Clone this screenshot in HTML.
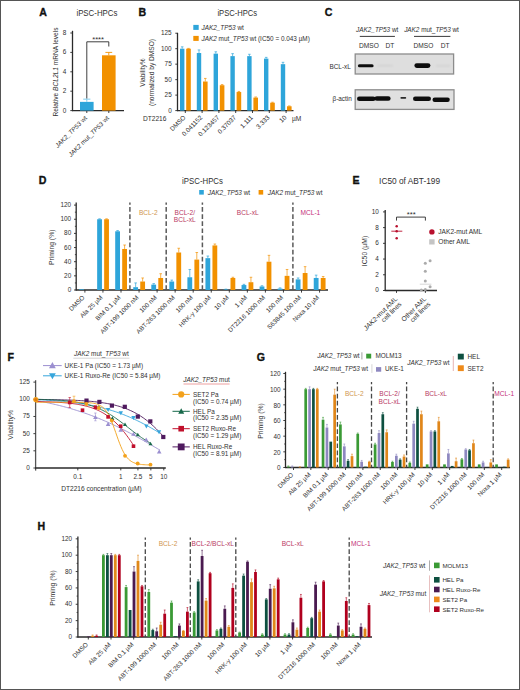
<!DOCTYPE html>
<html><head><meta charset="utf-8"><style>
html,body{margin:0;padding:0;background:#fff;}
body{width:520px;height:690px;overflow:hidden;}
svg{display:block;}
text{font-family:"Liberation Sans", sans-serif;fill:#303030;stroke:none;}
</style></head><body>
<svg width="520" height="690" viewBox="0 0 520 690">
<rect x="0" y="0" width="520" height="690" fill="#fff"/>
<text x="39.20" y="15.60" font-size="10.60" font-weight="bold" style="fill:#111;stroke:#111;stroke-width:0.35">A</text>
<text x="96.90" y="16.00" font-size="8.80" textLength="41.00" lengthAdjust="spacingAndGlyphs" text-anchor="middle">iPSC-HPCs</text>
<line x1="72.50" y1="30.80" x2="72.50" y2="111.10" stroke="#2a2a2a" stroke-width="1.30" />
<line x1="70.30" y1="110.60" x2="72.50" y2="110.60" stroke="#2a2a2a" stroke-width="0.90" />
<text x="66.20" y="112.58" font-size="6.40" text-anchor="end">0</text>
<line x1="70.30" y1="91.20" x2="72.50" y2="91.20" stroke="#2a2a2a" stroke-width="0.90" />
<text x="66.20" y="93.18" font-size="6.40" text-anchor="end">2</text>
<line x1="70.30" y1="71.80" x2="72.50" y2="71.80" stroke="#2a2a2a" stroke-width="0.90" />
<text x="66.20" y="73.78" font-size="6.40" text-anchor="end">4</text>
<line x1="70.30" y1="52.40" x2="72.50" y2="52.40" stroke="#2a2a2a" stroke-width="0.90" />
<text x="66.20" y="54.38" font-size="6.40" text-anchor="end">6</text>
<line x1="70.30" y1="33.00" x2="72.50" y2="33.00" stroke="#2a2a2a" stroke-width="0.90" />
<text x="66.20" y="34.98" font-size="6.40" text-anchor="end">8</text>
<line x1="72.00" y1="110.60" x2="124.00" y2="110.60" stroke="#2a2a2a" stroke-width="1.30" />
<line x1="86.80" y1="110.60" x2="86.80" y2="113.00" stroke="#2a2a2a" stroke-width="0.90" />
<line x1="108.80" y1="110.60" x2="108.80" y2="113.00" stroke="#2a2a2a" stroke-width="0.90" />
<rect x="80.00" y="101.87" width="13.60" height="8.73" fill="#2ea5da" />
<line x1="86.80" y1="101.87" x2="86.80" y2="99.15" stroke="#7fcdef" stroke-width="1.00" />
<line x1="83.20" y1="99.15" x2="90.40" y2="99.15" stroke="#7fcdef" stroke-width="1.00" />
<rect x="102.00" y="55.31" width="13.60" height="55.29" fill="#f29100" />
<line x1="108.80" y1="55.31" x2="108.80" y2="52.40" stroke="#f29100" stroke-width="0.90" />
<line x1="105.40" y1="52.40" x2="112.20" y2="52.40" stroke="#f29100" stroke-width="0.90" />
<polyline points="86.8,98.5 86.8,41.8 108.8,41.8 108.8,46.5" fill="none" stroke="#2a2a2a" stroke-width="0.9"/>
<text x="98.10" y="42.40" font-size="7.60" text-anchor="middle">****</text>
<text x="57.50" y="72.00" font-size="6.60" text-anchor="middle" transform="rotate(-90 57.50 72.00)">Relative <tspan font-style="italic">BCL2L1</tspan> mRNA levels</text>
<text x="87.60" y="118.40" font-size="6.40" text-anchor="end" transform="rotate(-45 87.60 118.40)"><tspan font-style="italic">JAK2_TP53</tspan> wt</text>
<text x="109.60" y="118.60" font-size="6.40" text-anchor="end" transform="rotate(-45 109.60 118.60)"><tspan font-style="italic">JAK2</tspan> mut_<tspan font-style="italic">TP53</tspan> wt</text>
<text x="138.40" y="15.80" font-size="10.60" font-weight="bold" style="fill:#111;stroke:#111;stroke-width:0.35">B</text>
<text x="237.30" y="16.00" font-size="8.80" textLength="39.80" lengthAdjust="spacingAndGlyphs" text-anchor="middle">iPSC-HPCs</text>
<rect x="193.30" y="24.90" width="5.40" height="5.00" fill="#2ea5da" />
<text x="201.50" y="30.00" font-size="6.40"><tspan font-style="italic">JAK2_TP53</tspan> wt</text>
<rect x="193.30" y="35.90" width="5.40" height="5.00" fill="#f29100" />
<text x="201.50" y="41.00" font-size="6.40"><tspan font-style="italic">JAK2</tspan> mut_<tspan font-style="italic">TP53</tspan> wt (IC50 = 0.043 µM)</text>
<line x1="177.50" y1="32.80" x2="177.50" y2="111.10" stroke="#2a2a2a" stroke-width="1.30" />
<line x1="175.30" y1="110.60" x2="177.50" y2="110.60" stroke="#2a2a2a" stroke-width="0.90" />
<text x="171.70" y="112.58" font-size="6.40" text-anchor="end">0</text>
<line x1="175.30" y1="95.12" x2="177.50" y2="95.12" stroke="#2a2a2a" stroke-width="0.90" />
<text x="171.70" y="97.11" font-size="6.40" text-anchor="end">25</text>
<line x1="175.30" y1="79.65" x2="177.50" y2="79.65" stroke="#2a2a2a" stroke-width="0.90" />
<text x="171.70" y="81.63" font-size="6.40" text-anchor="end">50</text>
<line x1="175.30" y1="64.17" x2="177.50" y2="64.17" stroke="#2a2a2a" stroke-width="0.90" />
<text x="171.70" y="66.16" font-size="6.40" text-anchor="end">75</text>
<line x1="175.30" y1="48.70" x2="177.50" y2="48.70" stroke="#2a2a2a" stroke-width="0.90" />
<text x="171.70" y="50.68" font-size="6.40" text-anchor="end">100</text>
<line x1="175.30" y1="33.22" x2="177.50" y2="33.22" stroke="#2a2a2a" stroke-width="0.90" />
<text x="171.70" y="35.21" font-size="6.40" text-anchor="end">125</text>
<line x1="177.00" y1="110.60" x2="293.50" y2="110.60" stroke="#2a2a2a" stroke-width="1.30" />
<rect x="180.00" y="48.70" width="4.40" height="61.90" fill="#2ea5da" />
<line x1="182.20" y1="48.70" x2="182.20" y2="46.84" stroke="#2ea5da" stroke-width="0.70" />
<line x1="180.90" y1="46.84" x2="183.50" y2="46.84" stroke="#2ea5da" stroke-width="0.70" />
<rect x="186.20" y="48.70" width="4.60" height="61.90" fill="#f29100" />
<line x1="188.50" y1="48.70" x2="188.50" y2="48.39" stroke="#f29100" stroke-width="0.70" />
<line x1="187.20" y1="48.39" x2="189.80" y2="48.39" stroke="#f29100" stroke-width="0.70" />
<line x1="185.30" y1="110.60" x2="185.30" y2="113.00" stroke="#2a2a2a" stroke-width="0.90" />
<text x="186.10" y="118.00" font-size="6.40" text-anchor="end" transform="rotate(-45 186.10 118.00)">DMSO</text>
<rect x="196.80" y="53.03" width="4.40" height="57.57" fill="#2ea5da" />
<line x1="199.00" y1="53.03" x2="199.00" y2="49.94" stroke="#2ea5da" stroke-width="0.70" />
<line x1="197.70" y1="49.94" x2="200.30" y2="49.94" stroke="#2ea5da" stroke-width="0.70" />
<rect x="203.00" y="81.51" width="4.60" height="29.09" fill="#f29100" />
<line x1="205.30" y1="81.51" x2="205.30" y2="78.41" stroke="#f29100" stroke-width="0.70" />
<line x1="204.00" y1="78.41" x2="206.60" y2="78.41" stroke="#f29100" stroke-width="0.70" />
<line x1="202.10" y1="110.60" x2="202.10" y2="113.00" stroke="#2a2a2a" stroke-width="0.90" />
<text x="202.90" y="118.00" font-size="6.40" text-anchor="end" transform="rotate(-45 202.90 118.00)">0.041152</text>
<rect x="213.60" y="53.65" width="4.40" height="56.95" fill="#2ea5da" />
<line x1="215.80" y1="53.65" x2="215.80" y2="51.79" stroke="#2ea5da" stroke-width="0.70" />
<line x1="214.50" y1="51.79" x2="217.10" y2="51.79" stroke="#2ea5da" stroke-width="0.70" />
<rect x="219.80" y="85.22" width="4.60" height="25.38" fill="#f29100" />
<line x1="222.10" y1="85.22" x2="222.10" y2="84.60" stroke="#f29100" stroke-width="0.70" />
<line x1="220.80" y1="84.60" x2="223.40" y2="84.60" stroke="#f29100" stroke-width="0.70" />
<line x1="218.90" y1="110.60" x2="218.90" y2="113.00" stroke="#2a2a2a" stroke-width="0.90" />
<text x="219.70" y="118.00" font-size="6.40" text-anchor="end" transform="rotate(-45 219.70 118.00)">0.123457</text>
<rect x="230.40" y="56.13" width="4.40" height="54.47" fill="#2ea5da" />
<line x1="232.60" y1="56.13" x2="232.60" y2="53.65" stroke="#2ea5da" stroke-width="0.70" />
<line x1="231.30" y1="53.65" x2="233.90" y2="53.65" stroke="#2ea5da" stroke-width="0.70" />
<rect x="236.60" y="92.03" width="4.60" height="18.57" fill="#f29100" />
<line x1="238.90" y1="92.03" x2="238.90" y2="91.41" stroke="#f29100" stroke-width="0.70" />
<line x1="237.60" y1="91.41" x2="240.20" y2="91.41" stroke="#f29100" stroke-width="0.70" />
<line x1="235.70" y1="110.60" x2="235.70" y2="113.00" stroke="#2a2a2a" stroke-width="0.90" />
<text x="236.50" y="118.00" font-size="6.40" text-anchor="end" transform="rotate(-45 236.50 118.00)">0.37037</text>
<rect x="247.20" y="56.13" width="4.40" height="54.47" fill="#2ea5da" />
<line x1="249.40" y1="56.13" x2="249.40" y2="54.27" stroke="#2ea5da" stroke-width="0.70" />
<line x1="248.10" y1="54.27" x2="250.70" y2="54.27" stroke="#2ea5da" stroke-width="0.70" />
<rect x="253.40" y="97.60" width="4.60" height="13.00" fill="#f29100" />
<line x1="255.70" y1="97.60" x2="255.70" y2="96.98" stroke="#f29100" stroke-width="0.70" />
<line x1="254.40" y1="96.98" x2="257.00" y2="96.98" stroke="#f29100" stroke-width="0.70" />
<line x1="252.50" y1="110.60" x2="252.50" y2="113.00" stroke="#2a2a2a" stroke-width="0.90" />
<text x="253.30" y="118.00" font-size="6.40" text-anchor="end" transform="rotate(-45 253.30 118.00)">1.111</text>
<rect x="264.00" y="58.60" width="4.40" height="52.00" fill="#2ea5da" />
<line x1="266.20" y1="58.60" x2="266.20" y2="57.37" stroke="#2ea5da" stroke-width="0.70" />
<line x1="264.90" y1="57.37" x2="267.50" y2="57.37" stroke="#2ea5da" stroke-width="0.70" />
<rect x="270.20" y="102.68" width="4.60" height="7.92" fill="#f29100" />
<line x1="272.50" y1="102.68" x2="272.50" y2="102.24" stroke="#f29100" stroke-width="0.70" />
<line x1="271.20" y1="102.24" x2="273.80" y2="102.24" stroke="#f29100" stroke-width="0.70" />
<line x1="269.30" y1="110.60" x2="269.30" y2="113.00" stroke="#2a2a2a" stroke-width="0.90" />
<text x="270.10" y="118.00" font-size="6.40" text-anchor="end" transform="rotate(-45 270.10 118.00)">3.333</text>
<rect x="280.80" y="64.17" width="4.40" height="46.42" fill="#2ea5da" />
<line x1="283.00" y1="64.17" x2="283.00" y2="62.32" stroke="#2ea5da" stroke-width="0.70" />
<line x1="281.70" y1="62.32" x2="284.30" y2="62.32" stroke="#2ea5da" stroke-width="0.70" />
<rect x="287.00" y="106.27" width="4.60" height="4.33" fill="#f29100" />
<line x1="289.30" y1="106.27" x2="289.30" y2="105.96" stroke="#f29100" stroke-width="0.70" />
<line x1="288.00" y1="105.96" x2="290.60" y2="105.96" stroke="#f29100" stroke-width="0.70" />
<line x1="286.10" y1="110.60" x2="286.10" y2="113.00" stroke="#2a2a2a" stroke-width="0.90" />
<text x="286.90" y="118.00" font-size="6.40" text-anchor="end" transform="rotate(-45 286.90 118.00)">10</text>
<text x="143.00" y="121.20" font-size="6.60">DT2216</text>
<text x="292.00" y="121.20" font-size="6.60">µM</text>
<text x="144.50" y="72.50" font-size="6.60" text-anchor="middle" transform="rotate(-90 144.50 72.50)">Viability%</text>
<text x="153.70" y="72.50" font-size="6.60" text-anchor="middle" transform="rotate(-90 153.70 72.50)">(normalized by DMSO)</text>
<text x="324.70" y="16.00" font-size="10.60" font-weight="bold" style="fill:#111;stroke:#111;stroke-width:0.35">C</text>
<text x="377.20" y="32.20" font-size="6.40" text-anchor="middle"><tspan font-style="italic">JAK2_TP53</tspan> wt</text>
<line x1="359.80" y1="36.40" x2="394.90" y2="36.40" stroke="#222" stroke-width="0.90" />
<text x="431.50" y="32.20" font-size="6.40" text-anchor="middle"><tspan font-style="italic">JAK2</tspan> mut_<tspan font-style="italic">TP53</tspan> wt</text>
<line x1="414.00" y1="36.40" x2="450.40" y2="36.40" stroke="#222" stroke-width="0.90" />
<text x="369.00" y="48.40" font-size="6.60" text-anchor="middle">DMSO</text>
<text x="390.00" y="48.40" font-size="6.60" text-anchor="middle">DT</text>
<text x="423.40" y="48.40" font-size="6.60" text-anchor="middle">DMSO</text>
<text x="445.10" y="48.40" font-size="6.60" text-anchor="middle">DT</text>
<text x="350.80" y="68.60" font-size="6.40" text-anchor="end">BCL-xL</text>
<text x="351.80" y="100.60" font-size="6.40" text-anchor="end">β-actin</text>
<defs><filter id="bl" x="-20%" y="-100%" width="140%" height="300%"><feGaussianBlur stdDeviation="0.4"/></filter><filter id="bl2" x="-20%" y="-100%" width="140%" height="300%"><feGaussianBlur stdDeviation="0.9"/></filter></defs>
<rect x="355.20" y="54.00" width="98.40" height="20.00" fill="#dedede" stroke="#8c8c8c" stroke-width="1.3"/>
<rect x="355.20" y="89.80" width="98.80" height="19.60" fill="#e0e0e0" stroke="#8c8c8c" stroke-width="1.3"/>
<rect x="357.90" y="64.30" width="15.70" height="3.00" rx="1.50" fill="#111" filter="url(#bl)"/>
<rect x="377.00" y="64.90" width="16.00" height="1.40" rx="0.70" fill="#cdcdcd" filter="url(#bl2)"/>
<rect x="414.40" y="63.30" width="16.00" height="4.60" rx="2.30" fill="#111" filter="url(#bl)"/>
<rect x="435.70" y="65.10" width="14.80" height="1.40" rx="0.70" fill="#d0d0d0" filter="url(#bl2)"/>
<rect x="357.00" y="96.40" width="18.60" height="4.60" rx="2.30" fill="#111" filter="url(#bl)"/>
<rect x="374.60" y="96.30" width="16.00" height="4.40" rx="2.20" fill="#111" filter="url(#bl)"/>
<rect x="400.40" y="97.10" width="5.80" height="1.60" rx="0.80" fill="#2a2a2a" filter="url(#bl)"/>
<rect x="413.00" y="96.40" width="18.00" height="4.60" rx="2.30" fill="#111" filter="url(#bl)"/>
<rect x="432.50" y="97.50" width="17.30" height="4.40" rx="2.20" fill="#111" filter="url(#bl)"/>
<text x="38.70" y="183.90" font-size="10.60" font-weight="bold" style="fill:#111;stroke:#111;stroke-width:0.35">D</text>
<text x="202.50" y="184.20" font-size="8.80" textLength="40.80" lengthAdjust="spacingAndGlyphs" text-anchor="middle">iPSC-HPCs</text>
<rect x="199.20" y="190.00" width="4.60" height="4.60" fill="#2ea5da" />
<text x="207.80" y="194.60" font-size="6.40"><tspan font-style="italic">JAK2_TP53</tspan> wt</text>
<rect x="258.60" y="190.00" width="4.60" height="4.60" fill="#f29100" />
<text x="267.80" y="194.60" font-size="6.40"><tspan font-style="italic">JAK2</tspan> mut_<tspan font-style="italic">TP53</tspan> wt</text>
<line x1="76.20" y1="202.50" x2="76.20" y2="290.50" stroke="#2a2a2a" stroke-width="1.30" />
<line x1="74.00" y1="290.00" x2="76.20" y2="290.00" stroke="#2a2a2a" stroke-width="0.90" />
<text x="71.20" y="291.98" font-size="6.40" text-anchor="end">0</text>
<line x1="74.00" y1="275.85" x2="76.20" y2="275.85" stroke="#2a2a2a" stroke-width="0.90" />
<text x="71.20" y="277.83" font-size="6.40" text-anchor="end">20</text>
<line x1="74.00" y1="261.70" x2="76.20" y2="261.70" stroke="#2a2a2a" stroke-width="0.90" />
<text x="71.20" y="263.68" font-size="6.40" text-anchor="end">40</text>
<line x1="74.00" y1="247.55" x2="76.20" y2="247.55" stroke="#2a2a2a" stroke-width="0.90" />
<text x="71.20" y="249.53" font-size="6.40" text-anchor="end">60</text>
<line x1="74.00" y1="233.40" x2="76.20" y2="233.40" stroke="#2a2a2a" stroke-width="0.90" />
<text x="71.20" y="235.38" font-size="6.40" text-anchor="end">80</text>
<line x1="74.00" y1="219.25" x2="76.20" y2="219.25" stroke="#2a2a2a" stroke-width="0.90" />
<text x="71.20" y="221.23" font-size="6.40" text-anchor="end">100</text>
<line x1="74.00" y1="205.10" x2="76.20" y2="205.10" stroke="#2a2a2a" stroke-width="0.90" />
<text x="71.20" y="207.08" font-size="6.40" text-anchor="end">120</text>
<line x1="74.88" y1="282.93" x2="76.20" y2="282.93" stroke="#2a2a2a" stroke-width="0.80" />
<line x1="74.88" y1="268.77" x2="76.20" y2="268.77" stroke="#2a2a2a" stroke-width="0.80" />
<line x1="74.88" y1="254.62" x2="76.20" y2="254.62" stroke="#2a2a2a" stroke-width="0.80" />
<line x1="74.88" y1="240.47" x2="76.20" y2="240.47" stroke="#2a2a2a" stroke-width="0.80" />
<line x1="74.88" y1="226.32" x2="76.20" y2="226.32" stroke="#2a2a2a" stroke-width="0.80" />
<line x1="74.88" y1="212.18" x2="76.20" y2="212.18" stroke="#2a2a2a" stroke-width="0.80" />
<line x1="75.70" y1="290.00" x2="328.00" y2="290.00" stroke="#2a2a2a" stroke-width="1.30" />
<text x="54.40" y="247.30" font-size="6.80" text-anchor="middle" transform="rotate(-90 54.40 247.30)">Priming (%)</text>
<rect x="79.10" y="289.29" width="4.80" height="0.71" fill="#2ea5da" />
<line x1="84.90" y1="290.00" x2="84.90" y2="292.60" stroke="#2a2a2a" stroke-width="0.90" />
<text x="85.00" y="297.90" font-size="6.40" text-anchor="end" transform="rotate(-45 85.00 297.90)">DMSO</text>
<rect x="97.15" y="219.25" width="4.80" height="70.75" fill="#2ea5da" />
<line x1="99.55" y1="219.25" x2="99.55" y2="218.83" stroke="#2ea5da" stroke-width="0.70" />
<line x1="98.25" y1="218.83" x2="100.85" y2="218.83" stroke="#2ea5da" stroke-width="0.70" />
<rect x="104.15" y="219.25" width="4.80" height="70.75" fill="#f29100" />
<line x1="106.55" y1="219.25" x2="106.55" y2="218.83" stroke="#f29100" stroke-width="0.70" />
<line x1="105.25" y1="218.83" x2="107.85" y2="218.83" stroke="#f29100" stroke-width="0.70" />
<line x1="102.95" y1="290.00" x2="102.95" y2="292.60" stroke="#2a2a2a" stroke-width="0.90" />
<text x="103.05" y="297.90" font-size="6.40" text-anchor="end" transform="rotate(-45 103.05 297.90)">Ala 25 µM</text>
<rect x="115.20" y="231.28" width="4.80" height="58.72" fill="#2ea5da" />
<line x1="117.60" y1="231.28" x2="117.60" y2="230.57" stroke="#2ea5da" stroke-width="0.70" />
<line x1="116.30" y1="230.57" x2="118.90" y2="230.57" stroke="#2ea5da" stroke-width="0.70" />
<rect x="122.20" y="248.97" width="4.80" height="41.03" fill="#f29100" />
<line x1="124.60" y1="248.97" x2="124.60" y2="245.00" stroke="#f29100" stroke-width="0.70" />
<line x1="123.30" y1="245.00" x2="125.90" y2="245.00" stroke="#f29100" stroke-width="0.70" />
<line x1="121.00" y1="290.00" x2="121.00" y2="292.60" stroke="#2a2a2a" stroke-width="0.90" />
<text x="121.10" y="297.90" font-size="6.40" text-anchor="end" transform="rotate(-45 121.10 297.90)">BIM 0.1 µM</text>
<rect x="133.25" y="287.17" width="4.80" height="2.83" fill="#2ea5da" />
<line x1="135.65" y1="287.17" x2="135.65" y2="282.93" stroke="#2ea5da" stroke-width="0.70" />
<line x1="134.35" y1="282.93" x2="136.95" y2="282.93" stroke="#2ea5da" stroke-width="0.70" />
<rect x="140.25" y="281.51" width="4.80" height="8.49" fill="#f29100" />
<line x1="142.65" y1="281.51" x2="142.65" y2="277.97" stroke="#f29100" stroke-width="0.70" />
<line x1="141.35" y1="277.97" x2="143.95" y2="277.97" stroke="#f29100" stroke-width="0.70" />
<line x1="139.05" y1="290.00" x2="139.05" y2="292.60" stroke="#2a2a2a" stroke-width="0.90" />
<text x="139.15" y="297.90" font-size="6.40" text-anchor="end" transform="rotate(-45 139.15 297.90)">ABT-199 1000 nM</text>
<rect x="151.30" y="284.62" width="4.80" height="5.38" fill="#2ea5da" />
<line x1="153.70" y1="284.62" x2="153.70" y2="283.63" stroke="#2ea5da" stroke-width="0.70" />
<line x1="152.40" y1="283.63" x2="155.00" y2="283.63" stroke="#2ea5da" stroke-width="0.70" />
<rect x="158.30" y="277.97" width="4.80" height="12.03" fill="#f29100" />
<line x1="160.70" y1="277.97" x2="160.70" y2="273.73" stroke="#f29100" stroke-width="0.70" />
<line x1="159.40" y1="273.73" x2="162.00" y2="273.73" stroke="#f29100" stroke-width="0.70" />
<line x1="157.10" y1="290.00" x2="157.10" y2="292.60" stroke="#2a2a2a" stroke-width="0.90" />
<text x="157.20" y="297.90" font-size="6.40" text-anchor="end" transform="rotate(-45 157.20 297.90)">100 nM</text>
<rect x="169.35" y="281.51" width="4.80" height="8.49" fill="#2ea5da" />
<line x1="171.75" y1="281.51" x2="171.75" y2="280.10" stroke="#2ea5da" stroke-width="0.70" />
<line x1="170.45" y1="280.10" x2="173.05" y2="280.10" stroke="#2ea5da" stroke-width="0.70" />
<rect x="176.35" y="252.50" width="4.80" height="37.50" fill="#f29100" />
<line x1="178.75" y1="252.50" x2="178.75" y2="248.26" stroke="#f29100" stroke-width="0.70" />
<line x1="177.45" y1="248.26" x2="180.05" y2="248.26" stroke="#f29100" stroke-width="0.70" />
<line x1="175.15" y1="290.00" x2="175.15" y2="292.60" stroke="#2a2a2a" stroke-width="0.90" />
<text x="175.25" y="297.90" font-size="6.40" text-anchor="end" transform="rotate(-45 175.25 297.90)">ABT-263 1000 nM</text>
<rect x="187.40" y="277.26" width="4.80" height="12.74" fill="#2ea5da" />
<line x1="189.80" y1="277.26" x2="189.80" y2="269.48" stroke="#2ea5da" stroke-width="0.70" />
<line x1="188.50" y1="269.48" x2="191.10" y2="269.48" stroke="#2ea5da" stroke-width="0.70" />
<rect x="194.40" y="259.58" width="4.80" height="30.42" fill="#f29100" />
<line x1="196.80" y1="259.58" x2="196.80" y2="252.50" stroke="#f29100" stroke-width="0.70" />
<line x1="195.50" y1="252.50" x2="198.10" y2="252.50" stroke="#f29100" stroke-width="0.70" />
<line x1="193.20" y1="290.00" x2="193.20" y2="292.60" stroke="#2a2a2a" stroke-width="0.90" />
<text x="193.30" y="297.90" font-size="6.40" text-anchor="end" transform="rotate(-45 193.30 297.90)">100 nM</text>
<rect x="205.45" y="258.16" width="4.80" height="31.84" fill="#2ea5da" />
<line x1="207.85" y1="258.16" x2="207.85" y2="256.04" stroke="#2ea5da" stroke-width="0.70" />
<line x1="206.55" y1="256.04" x2="209.15" y2="256.04" stroke="#2ea5da" stroke-width="0.70" />
<rect x="212.45" y="245.43" width="4.80" height="44.57" fill="#f29100" />
<line x1="214.85" y1="245.43" x2="214.85" y2="244.01" stroke="#f29100" stroke-width="0.70" />
<line x1="213.55" y1="244.01" x2="216.15" y2="244.01" stroke="#f29100" stroke-width="0.70" />
<line x1="211.25" y1="290.00" x2="211.25" y2="292.60" stroke="#2a2a2a" stroke-width="0.90" />
<text x="211.35" y="297.90" font-size="6.40" text-anchor="end" transform="rotate(-45 211.35 297.90)">HRK-y 100 µM</text>
<rect x="223.50" y="289.58" width="4.80" height="0.42" fill="#2ea5da" />
<line x1="225.90" y1="289.58" x2="225.90" y2="289.15" stroke="#2ea5da" stroke-width="0.70" />
<line x1="224.60" y1="289.15" x2="227.20" y2="289.15" stroke="#2ea5da" stroke-width="0.70" />
<rect x="230.50" y="277.97" width="4.80" height="12.03" fill="#f29100" />
<line x1="232.90" y1="277.97" x2="232.90" y2="277.26" stroke="#f29100" stroke-width="0.70" />
<line x1="231.60" y1="277.26" x2="234.20" y2="277.26" stroke="#f29100" stroke-width="0.70" />
<line x1="229.30" y1="290.00" x2="229.30" y2="292.60" stroke="#2a2a2a" stroke-width="0.90" />
<text x="229.40" y="297.90" font-size="6.40" text-anchor="end" transform="rotate(-45 229.40 297.90)">10 µM</text>
<rect x="241.55" y="285.05" width="4.80" height="4.95" fill="#2ea5da" />
<line x1="243.95" y1="285.05" x2="243.95" y2="284.34" stroke="#2ea5da" stroke-width="0.70" />
<line x1="242.65" y1="284.34" x2="245.25" y2="284.34" stroke="#2ea5da" stroke-width="0.70" />
<rect x="248.55" y="282.22" width="4.80" height="7.78" fill="#f29100" />
<line x1="250.95" y1="282.22" x2="250.95" y2="277.26" stroke="#f29100" stroke-width="0.70" />
<line x1="249.65" y1="277.26" x2="252.25" y2="277.26" stroke="#f29100" stroke-width="0.70" />
<line x1="247.35" y1="290.00" x2="247.35" y2="292.60" stroke="#2a2a2a" stroke-width="0.90" />
<text x="247.45" y="297.90" font-size="6.40" text-anchor="end" transform="rotate(-45 247.45 297.90)">1 µM</text>
<rect x="259.60" y="286.46" width="4.80" height="3.54" fill="#2ea5da" />
<line x1="262.00" y1="286.46" x2="262.00" y2="285.75" stroke="#2ea5da" stroke-width="0.70" />
<line x1="260.70" y1="285.75" x2="263.30" y2="285.75" stroke="#2ea5da" stroke-width="0.70" />
<rect x="266.60" y="261.70" width="4.80" height="28.30" fill="#f29100" />
<line x1="269.00" y1="261.70" x2="269.00" y2="255.33" stroke="#f29100" stroke-width="0.70" />
<line x1="267.70" y1="255.33" x2="270.30" y2="255.33" stroke="#f29100" stroke-width="0.70" />
<line x1="265.40" y1="290.00" x2="265.40" y2="292.60" stroke="#2a2a2a" stroke-width="0.90" />
<text x="265.50" y="297.90" font-size="6.40" text-anchor="end" transform="rotate(-45 265.50 297.90)">DT2216 1000 nM</text>
<rect x="277.65" y="288.58" width="4.80" height="1.42" fill="#2ea5da" />
<line x1="280.05" y1="288.58" x2="280.05" y2="287.88" stroke="#2ea5da" stroke-width="0.70" />
<line x1="278.75" y1="287.88" x2="281.35" y2="287.88" stroke="#2ea5da" stroke-width="0.70" />
<rect x="284.65" y="275.85" width="4.80" height="14.15" fill="#f29100" />
<line x1="287.05" y1="275.85" x2="287.05" y2="269.48" stroke="#f29100" stroke-width="0.70" />
<line x1="285.75" y1="269.48" x2="288.35" y2="269.48" stroke="#f29100" stroke-width="0.70" />
<line x1="283.45" y1="290.00" x2="283.45" y2="292.60" stroke="#2a2a2a" stroke-width="0.90" />
<text x="283.55" y="297.90" font-size="6.40" text-anchor="end" transform="rotate(-45 283.55 297.90)">100 nM</text>
<rect x="295.70" y="279.39" width="4.80" height="10.61" fill="#2ea5da" />
<line x1="298.10" y1="279.39" x2="298.10" y2="277.97" stroke="#2ea5da" stroke-width="0.70" />
<line x1="296.80" y1="277.97" x2="299.40" y2="277.97" stroke="#2ea5da" stroke-width="0.70" />
<rect x="302.70" y="273.02" width="4.80" height="16.98" fill="#f29100" />
<line x1="305.10" y1="273.02" x2="305.10" y2="266.65" stroke="#f29100" stroke-width="0.70" />
<line x1="303.80" y1="266.65" x2="306.40" y2="266.65" stroke="#f29100" stroke-width="0.70" />
<line x1="301.50" y1="290.00" x2="301.50" y2="292.60" stroke="#2a2a2a" stroke-width="0.90" />
<text x="301.60" y="297.90" font-size="6.40" text-anchor="end" transform="rotate(-45 301.60 297.90)">S63845 100 nM</text>
<rect x="313.75" y="277.97" width="4.80" height="12.03" fill="#2ea5da" />
<line x1="316.15" y1="277.97" x2="316.15" y2="275.14" stroke="#2ea5da" stroke-width="0.70" />
<line x1="314.85" y1="275.14" x2="317.45" y2="275.14" stroke="#2ea5da" stroke-width="0.70" />
<rect x="320.75" y="277.97" width="4.80" height="12.03" fill="#f29100" />
<line x1="323.15" y1="277.97" x2="323.15" y2="276.56" stroke="#f29100" stroke-width="0.70" />
<line x1="321.85" y1="276.56" x2="324.45" y2="276.56" stroke="#f29100" stroke-width="0.70" />
<line x1="319.55" y1="290.00" x2="319.55" y2="292.60" stroke="#2a2a2a" stroke-width="0.90" />
<text x="319.65" y="297.90" font-size="6.40" text-anchor="end" transform="rotate(-45 319.65 297.90)">Noxa 10 µM</text>
<line x1="129.90" y1="202.50" x2="129.90" y2="290.00" stroke="#5a5a5a" stroke-width="1.50" stroke-dasharray="4.7 2.4" stroke-dashoffset="2.5"/>
<line x1="166.20" y1="202.50" x2="166.20" y2="290.00" stroke="#5a5a5a" stroke-width="1.50" stroke-dasharray="4.7 2.4" stroke-dashoffset="2.5"/>
<line x1="202.40" y1="202.50" x2="202.40" y2="290.00" stroke="#5a5a5a" stroke-width="1.50" stroke-dasharray="4.7 2.4" stroke-dashoffset="2.5"/>
<line x1="292.90" y1="202.50" x2="292.90" y2="290.00" stroke="#5a5a5a" stroke-width="1.50" stroke-dasharray="4.7 2.4" stroke-dashoffset="2.5"/>
<text x="148.30" y="215.00" font-size="6.60" text-anchor="middle" style="fill:#d09650">BCL-2</text>
<text x="184.80" y="215.00" font-size="6.60" text-anchor="middle" style="fill:#b83a64">BCL-2/</text>
<text x="184.80" y="222.40" font-size="6.60" text-anchor="middle" style="fill:#b83a64">BCL-xL</text>
<text x="247.80" y="215.00" font-size="6.60" text-anchor="middle" style="fill:#b83a64">BCL-xL</text>
<text x="310.40" y="215.00" font-size="6.60" text-anchor="middle" style="fill:#c4307a">MCL-1</text>
<text x="352.60" y="183.80" font-size="10.60" font-weight="bold" style="fill:#111;stroke:#111;stroke-width:0.35">E</text>
<text x="409.60" y="184.40" font-size="8.80" textLength="61.00" lengthAdjust="spacingAndGlyphs" text-anchor="middle">IC50 of ABT-199</text>
<line x1="385.20" y1="210.00" x2="385.20" y2="291.00" stroke="#2a2a2a" stroke-width="1.30" />
<line x1="383.00" y1="290.50" x2="385.20" y2="290.50" stroke="#2a2a2a" stroke-width="0.90" />
<text x="378.80" y="292.48" font-size="6.40" text-anchor="end">0</text>
<line x1="383.00" y1="274.78" x2="385.20" y2="274.78" stroke="#2a2a2a" stroke-width="0.90" />
<text x="378.80" y="276.76" font-size="6.40" text-anchor="end">2</text>
<line x1="383.00" y1="259.06" x2="385.20" y2="259.06" stroke="#2a2a2a" stroke-width="0.90" />
<text x="378.80" y="261.04" font-size="6.40" text-anchor="end">4</text>
<line x1="383.00" y1="243.34" x2="385.20" y2="243.34" stroke="#2a2a2a" stroke-width="0.90" />
<text x="378.80" y="245.32" font-size="6.40" text-anchor="end">6</text>
<line x1="383.00" y1="227.62" x2="385.20" y2="227.62" stroke="#2a2a2a" stroke-width="0.90" />
<text x="378.80" y="229.60" font-size="6.40" text-anchor="end">8</text>
<line x1="383.00" y1="211.90" x2="385.20" y2="211.90" stroke="#2a2a2a" stroke-width="0.90" />
<text x="378.80" y="213.88" font-size="6.40" text-anchor="end">10</text>
<line x1="384.70" y1="290.50" x2="437.00" y2="290.50" stroke="#2a2a2a" stroke-width="1.30" />
<line x1="396.50" y1="290.50" x2="396.50" y2="292.90" stroke="#2a2a2a" stroke-width="0.90" />
<line x1="425.40" y1="290.50" x2="425.40" y2="292.90" stroke="#2a2a2a" stroke-width="0.90" />
<polyline points="396.5,220.6 396.5,217.1 425.4,217.1 425.4,220.6" fill="none" stroke="#2a2a2a" stroke-width="0.9"/>
<text x="411.20" y="217.30" font-size="7.60" text-anchor="middle">***</text>
<circle cx="396.70" cy="226.20" r="1.25" fill="#b8102e"/>
<circle cx="396.70" cy="238.30" r="1.25" fill="#b8102e"/>
<circle cx="396.70" cy="231.20" r="1.25" fill="#b8102e"/>
<line x1="391.30" y1="231.20" x2="402.30" y2="231.20" stroke="#b8102e" stroke-width="0.90" />
<circle cx="425.30" cy="263.20" r="1.5" fill="#ababab"/>
<circle cx="430.10" cy="260.80" r="1.5" fill="#ababab"/>
<circle cx="425.30" cy="271.30" r="1.5" fill="#ababab"/>
<circle cx="425.30" cy="281.10" r="1.5" fill="#ababab"/>
<circle cx="430.10" cy="286.80" r="1.5" fill="#ababab"/>
<circle cx="425.30" cy="289.60" r="1.5" fill="#ababab"/>
<circle cx="421.30" cy="290.00" r="1.5" fill="#ababab"/>
<line x1="419.80" y1="284.20" x2="431.40" y2="284.20" stroke="#cccccc" stroke-width="0.80" />
<circle cx="431.9" cy="231.9" r="2.7" fill="#b8102e"/>
<text x="438.30" y="234.30" font-size="6.60">JAK2-mut AML</text>
<rect x="429.20" y="239.30" width="5.40" height="5.20" fill="#c4c4c4" />
<text x="438.30" y="244.00" font-size="6.60">Other AML</text>
<text x="367.00" y="251.00" font-size="6.80" text-anchor="middle" transform="rotate(-90 367.00 251.00)">IC50 (µM)</text>
<text x="397.80" y="299.40" font-size="6.70" text-anchor="end" transform="rotate(-45 397.80 299.40)"><tspan font-style="italic">JAK2</tspan>-mut AML</text>
<text x="402.00" y="304.60" font-size="6.70" text-anchor="end" transform="rotate(-45 402.00 304.60)">cell lines</text>
<text x="426.60" y="299.40" font-size="6.70" text-anchor="end" transform="rotate(-45 426.60 299.40)">Other AML</text>
<text x="430.80" y="304.60" font-size="6.70" text-anchor="end" transform="rotate(-45 430.80 304.60)">cell lines</text>
<text x="7.40" y="361.30" font-size="10.60" font-weight="bold" style="fill:#111;stroke:#111;stroke-width:0.35">F</text>
<text x="101.40" y="356.20" font-size="6.40" text-anchor="middle"><tspan font-style="italic">JAK2</tspan> mut_<tspan font-style="italic">TP53</tspan> wt</text>
<line x1="73.30" y1="358.20" x2="129.50" y2="358.20" stroke="#bbb" stroke-width="0.60" />
<line x1="43.00" y1="365.60" x2="61.70" y2="365.60" stroke="#9b8fd0" stroke-width="1.00" />
<polygon points="49.00,368.16 55.80,368.16 52.40,362.04" fill="#9b8fd0"/>
<text x="64.60" y="367.90" font-size="6.40">UKE-1 Pa (IC50 = 1.73 µM)</text>
<line x1="43.00" y1="375.80" x2="61.70" y2="375.80" stroke="#37a6dc" stroke-width="1.00" />
<polygon points="49.00,373.24 55.80,373.24 52.40,379.36" fill="#37a6dc"/>
<text x="64.60" y="378.30" font-size="6.40">UKE-1 Ruxo-Re (IC50 = 5.84 µM)</text>
<line x1="35.60" y1="380.20" x2="35.60" y2="470.60" stroke="#555" stroke-width="1.30" />
<line x1="33.40" y1="468.00" x2="35.60" y2="468.00" stroke="#2a2a2a" stroke-width="0.90" />
<text x="29.80" y="469.98" font-size="6.40" text-anchor="end">0</text>
<line x1="33.40" y1="450.82" x2="35.60" y2="450.82" stroke="#2a2a2a" stroke-width="0.90" />
<text x="29.80" y="452.81" font-size="6.40" text-anchor="end">25</text>
<line x1="33.40" y1="433.65" x2="35.60" y2="433.65" stroke="#2a2a2a" stroke-width="0.90" />
<text x="29.80" y="435.63" font-size="6.40" text-anchor="end">50</text>
<line x1="33.40" y1="416.48" x2="35.60" y2="416.48" stroke="#2a2a2a" stroke-width="0.90" />
<text x="29.80" y="418.46" font-size="6.40" text-anchor="end">75</text>
<line x1="33.40" y1="399.30" x2="35.60" y2="399.30" stroke="#2a2a2a" stroke-width="0.90" />
<text x="29.80" y="401.28" font-size="6.40" text-anchor="end">100</text>
<line x1="33.40" y1="382.12" x2="35.60" y2="382.12" stroke="#2a2a2a" stroke-width="0.90" />
<text x="29.80" y="384.11" font-size="6.40" text-anchor="end">125</text>
<line x1="35.10" y1="468.00" x2="165.80" y2="468.00" stroke="#2a2a2a" stroke-width="1.30" />
<line x1="77.80" y1="468.00" x2="77.80" y2="470.40" stroke="#2a2a2a" stroke-width="0.90" />
<line x1="120.80" y1="468.00" x2="120.80" y2="470.40" stroke="#2a2a2a" stroke-width="0.90" />
<line x1="137.91" y1="468.00" x2="137.91" y2="470.40" stroke="#2a2a2a" stroke-width="0.90" />
<line x1="150.86" y1="468.00" x2="150.86" y2="470.40" stroke="#2a2a2a" stroke-width="0.90" />
<line x1="163.80" y1="468.00" x2="163.80" y2="470.40" stroke="#2a2a2a" stroke-width="0.90" />
<text x="77.80" y="479.00" font-size="6.40" text-anchor="middle">0.1</text>
<text x="120.80" y="479.00" font-size="6.40" text-anchor="middle">1</text>
<text x="137.91" y="479.00" font-size="6.40" text-anchor="middle">2.5</text>
<text x="150.86" y="479.00" font-size="6.40" text-anchor="middle">5</text>
<text x="163.80" y="479.00" font-size="6.40" text-anchor="middle">10</text>
<text x="101.40" y="490.60" font-size="6.60" text-anchor="middle">DT2216 concentration (µM)</text>
<text x="13.30" y="424.80" font-size="6.90" text-anchor="middle" transform="rotate(-90 13.30 424.80)">Viability%</text>
<polyline points="35.80,399.68 37.20,399.74 38.59,399.80 39.99,399.87 41.38,399.94 42.78,400.01 44.17,400.09 45.57,400.17 46.96,400.25 48.36,400.34 49.76,400.43 51.15,400.52 52.55,400.62 53.94,400.72 55.34,400.82 56.73,400.93 58.13,401.04 59.52,401.16 60.92,401.28 62.31,401.40 63.71,401.53 65.11,401.67 66.50,401.81 67.90,401.96 69.29,402.11 70.69,402.27 72.08,402.43 73.48,402.60 74.87,402.78 76.27,402.96 77.67,403.15 79.06,403.35 80.46,403.55 81.85,403.76 83.25,403.98 84.64,404.21 86.04,404.44 87.43,404.68 88.83,404.94 90.22,405.20 91.62,405.47 93.02,405.75 94.41,406.03 95.81,406.33 97.20,406.64 98.60,406.96 99.99,407.29 101.39,407.63 102.78,407.98 104.18,408.34 105.58,408.72 106.97,409.10 108.37,409.50 109.76,409.91 111.16,410.33 112.55,410.76 113.95,411.21 115.34,411.67 116.74,412.14 118.13,412.63 119.53,413.12 120.93,413.64 122.32,414.16 123.72,414.70 125.11,415.25 126.51,415.82 127.90,416.40 129.30,416.99 130.69,417.60 132.09,418.22 133.49,418.85 134.88,419.50 136.28,420.16 137.67,420.84 139.07,421.52 140.46,422.22 141.86,422.93 143.25,423.65 144.65,424.39 146.04,425.14 147.44,425.89 148.84,426.66 150.23,427.44 151.63,428.23 153.02,429.02 154.42,429.83 155.81,430.64 157.21,431.46 158.60,432.29 160.00,433.12" fill="none" stroke="#37a6dc" stroke-width="0.90"/>
<polyline points="35.80,400.49 37.20,400.74 38.59,401.00 39.99,401.26 41.38,401.53 42.78,401.80 44.17,402.08 45.57,402.36 46.96,402.65 48.36,402.95 49.76,403.25 51.15,403.56 52.55,403.87 53.94,404.19 55.34,404.52 56.73,404.85 58.13,405.20 59.52,405.54 60.92,405.90 62.31,406.26 63.71,406.63 65.11,407.00 66.50,407.39 67.90,407.78 69.29,408.17 70.69,408.58 72.08,408.99 73.48,409.41 74.87,409.84 76.27,410.27 77.67,410.72 79.06,411.17 80.46,411.63 81.85,412.09 83.25,412.57 84.64,413.05 86.04,413.54 87.43,414.04 88.83,414.55 90.22,415.06 91.62,415.58 93.02,416.12 94.41,416.66 95.81,417.20 97.20,417.76 98.60,418.32 99.99,418.90 101.39,419.48 102.78,420.07 104.18,420.66 105.58,421.27 106.97,421.88 108.37,422.50 109.76,423.13 111.16,423.77 112.55,424.42 113.95,425.07 115.34,425.73 116.74,426.40 118.13,427.07 119.53,427.76 120.93,428.45 122.32,429.15 123.72,429.85 125.11,430.57 126.51,431.29 127.90,432.01 129.30,432.75 130.69,433.48 132.09,434.23 133.49,434.98 134.88,435.74 136.28,436.50 137.67,437.27 139.07,438.05 140.46,438.83 141.86,439.61 143.25,440.40 144.65,441.20 146.04,441.99 147.44,442.80 148.84,443.60 150.23,444.41 151.63,445.23 153.02,446.04 154.42,446.86 155.81,447.69 157.21,448.51 158.60,449.34 160.00,450.16" fill="none" stroke="#9b8fd0" stroke-width="0.90"/>
<polyline points="35.80,399.46 37.23,399.47 38.67,399.48 40.10,399.49 41.54,399.51 42.97,399.52 44.41,399.54 45.84,399.56 47.28,399.58 48.71,399.60 50.15,399.62 51.58,399.64 53.02,399.67 54.45,399.69 55.89,399.72 57.32,399.75 58.76,399.78 60.19,399.81 61.63,399.85 63.06,399.89 64.50,399.93 65.93,399.97 67.37,400.01 68.80,400.06 70.24,400.11 71.67,400.17 73.11,400.23 74.54,400.29 75.98,400.36 77.41,400.43 78.84,400.50 80.28,400.58 81.71,400.67 83.15,400.76 84.58,400.86 86.02,400.96 87.45,401.07 88.89,401.19 90.32,401.31 91.76,401.44 93.19,401.58 94.63,401.73 96.06,401.89 97.50,402.06 98.93,402.24 100.37,402.43 101.80,402.63 103.24,402.85 104.67,403.08 106.11,403.32 107.54,403.58 108.98,403.85 110.41,404.14 111.85,404.45 113.28,404.78 114.72,405.12 116.15,405.49 117.59,405.88 119.02,406.29 120.46,406.72 121.89,407.18 123.32,407.67 124.76,408.18 126.19,408.73 127.63,409.30 129.06,409.90 130.50,410.54 131.93,411.21 133.37,411.92 134.80,412.66 136.24,413.44 137.67,414.26 139.11,415.12 140.54,416.02 141.98,416.97 143.41,417.95 144.85,418.99 146.28,420.06 147.72,421.19 149.15,422.36 150.59,423.58 152.02,424.84 153.46,426.16 154.89,427.52 156.33,428.93 157.76,430.38 159.20,431.88 160.63,433.43 162.07,435.01 163.50,436.64" fill="none" stroke="#4f1a5e" stroke-width="0.90"/>
<polyline points="35.80,399.30 37.09,399.33 38.38,399.35 39.67,399.38 40.96,399.42 42.24,399.45 43.53,399.49 44.82,399.53 46.11,399.57 47.40,399.62 48.69,399.67 49.98,399.72 51.27,399.78 52.55,399.84 53.84,399.91 55.13,399.97 56.42,400.05 57.71,400.13 59.00,400.21 60.29,400.31 61.58,400.40 62.86,400.51 64.15,400.62 65.44,400.74 66.73,400.86 68.02,401.00 69.31,401.14 70.60,401.30 71.89,401.46 73.17,401.64 74.46,401.83 75.75,402.03 77.04,402.24 78.33,402.46 79.62,402.70 80.91,402.96 82.20,403.23 83.48,403.52 84.77,403.82 86.06,404.15 87.35,404.49 88.64,404.85 89.93,405.24 91.22,405.64 92.51,406.07 93.79,406.52 95.08,407.00 96.37,407.49 97.66,408.02 98.95,408.57 100.24,409.15 101.53,409.75 102.82,410.38 104.10,411.04 105.39,411.72 106.68,412.43 107.97,413.17 109.26,413.94 110.55,414.73 111.84,415.55 113.13,416.39 114.41,417.25 115.70,418.14 116.99,419.05 118.28,419.98 119.57,420.92 120.86,421.89 122.15,422.86 123.44,423.85 124.72,424.84 126.01,425.85 127.30,426.86 128.59,427.86 129.88,428.87 131.17,429.88 132.46,430.88 133.75,431.87 135.03,432.86 136.32,433.83 137.61,434.79 138.90,435.73 140.19,436.65 141.48,437.55 142.77,438.43 144.06,439.29 145.34,440.12 146.63,440.93 147.92,441.72 149.21,442.47 150.50,443.20" fill="none" stroke="#17684a" stroke-width="0.90"/>
<polyline points="35.80,401.53 36.90,401.55 38.00,401.57 39.09,401.59 40.19,401.62 41.29,401.64 42.39,401.67 43.48,401.70 44.58,401.73 45.68,401.76 46.78,401.79 47.88,401.83 48.97,401.87 50.07,401.91 51.17,401.95 52.27,402.00 53.36,402.05 54.46,402.10 55.56,402.16 56.66,402.21 57.76,402.28 58.85,402.34 59.95,402.41 61.05,402.49 62.15,402.56 63.24,402.65 64.34,402.74 65.44,402.83 66.54,402.93 67.63,403.03 68.73,403.15 69.83,403.27 70.93,403.39 72.03,403.52 73.12,403.67 74.22,403.82 75.32,403.97 76.42,404.14 77.51,404.32 78.61,404.51 79.71,404.71 80.81,404.92 81.91,405.15 83.00,405.38 84.10,405.63 85.20,405.90 86.30,406.18 87.39,406.47 88.49,406.79 89.59,407.12 90.69,407.47 91.79,407.84 92.88,408.22 93.98,408.63 95.08,409.07 96.18,409.52 97.27,410.00 98.37,410.51 99.47,411.04 100.57,411.60 101.67,412.19 102.76,412.81 103.86,413.46 104.96,414.14 106.06,414.85 107.15,415.60 108.25,416.38 109.35,417.20 110.45,418.06 111.54,418.95 112.64,419.89 113.74,420.86 114.84,421.87 115.94,422.92 117.03,424.02 118.13,425.16 119.23,426.33 120.33,427.55 121.42,428.82 122.52,430.12 123.62,431.46 124.72,432.85 125.82,434.27 126.91,435.74 128.01,437.24 129.11,438.78 130.21,440.35 131.30,441.95 132.40,443.59 133.50,445.25" fill="none" stroke="#c0102c" stroke-width="0.90"/>
<polyline points="35.80,402.29 37.09,402.29 38.38,402.29 39.67,402.29 40.96,402.29 42.24,402.29 43.53,402.29 44.82,402.29 46.11,402.29 47.40,402.29 48.69,402.29 49.98,402.29 51.27,402.29 52.55,402.29 53.84,402.29 55.13,402.29 56.42,402.29 57.71,402.29 59.00,402.29 60.29,402.29 61.58,402.29 62.86,402.29 64.15,402.29 65.44,402.29 66.73,402.29 68.02,402.30 69.31,402.30 70.60,402.30 71.89,402.31 73.17,402.31 74.46,402.32 75.75,402.33 77.04,402.34 78.33,402.35 79.62,402.37 80.91,402.39 82.20,402.41 83.48,402.45 84.77,402.49 86.06,402.54 87.35,402.61 88.64,402.69 89.93,402.80 91.22,402.94 92.51,403.11 93.79,403.32 95.08,403.59 96.37,403.93 97.66,404.35 98.95,404.88 100.24,405.53 101.53,406.34 102.82,407.33 104.10,408.54 105.39,410.00 106.68,411.75 107.97,413.80 109.26,416.19 110.55,418.91 111.84,421.94 113.13,425.26 114.41,428.79 115.70,432.45 116.99,436.15 118.28,439.78 119.57,443.25 120.86,446.47 122.15,449.41 123.44,452.02 124.72,454.29 126.01,456.24 127.30,457.88 128.59,459.25 129.88,460.38 131.17,461.31 132.46,462.06 133.75,462.67 135.03,463.16 136.32,463.55 137.61,463.87 138.90,464.12 140.19,464.32 141.48,464.47 142.77,464.60 144.06,464.70 145.34,464.78 146.63,464.84 147.92,464.89 149.21,464.93 150.50,464.96" fill="none" stroke="#f3a11b" stroke-width="0.90"/>
<polygon points="93.10,419.07 97.70,419.07 95.40,414.93" fill="#9b8fd0"/>
<polygon points="105.80,425.97 110.40,425.97 108.10,421.83" fill="#9b8fd0"/>
<polygon points="118.50,431.67 123.10,431.67 120.80,427.53" fill="#9b8fd0"/>
<polygon points="131.20,435.77 135.80,435.77 133.50,431.63" fill="#9b8fd0"/>
<polygon points="143.90,441.57 148.50,441.57 146.20,437.43" fill="#9b8fd0"/>
<polygon points="156.90,453.57 161.50,453.57 159.20,449.43" fill="#9b8fd0"/>
<line x1="95.40" y1="417.00" x2="95.40" y2="413.00" stroke="#9b8fd0" stroke-width="0.60" />
<line x1="94.20" y1="413.00" x2="96.60" y2="413.00" stroke="#9b8fd0" stroke-width="0.60" />
<line x1="95.40" y1="417.00" x2="95.40" y2="420.80" stroke="#9b8fd0" stroke-width="0.60" />
<line x1="94.20" y1="420.80" x2="96.60" y2="420.80" stroke="#9b8fd0" stroke-width="0.60" />
<polygon points="105.90,408.02 110.30,408.02 108.10,411.98" fill="#37a6dc"/>
<polygon points="118.60,411.32 123.00,411.32 120.80,415.28" fill="#37a6dc"/>
<polygon points="131.30,415.92 135.70,415.92 133.50,419.88" fill="#37a6dc"/>
<polygon points="144.20,424.42 148.60,424.42 146.40,428.38" fill="#37a6dc"/>
<polygon points="156.80,430.22 161.20,430.22 159.00,434.18" fill="#37a6dc"/>
<rect x="84.40" y="398.50" width="4.20" height="4.20" fill="#4f1a5e" />
<rect x="97.30" y="399.80" width="4.20" height="4.20" fill="#4f1a5e" />
<rect x="109.80" y="403.50" width="4.20" height="4.20" fill="#4f1a5e" />
<rect x="122.70" y="404.70" width="4.20" height="4.20" fill="#4f1a5e" />
<rect x="135.70" y="414.50" width="4.20" height="4.20" fill="#4f1a5e" />
<rect x="148.20" y="419.30" width="4.20" height="4.20" fill="#4f1a5e" />
<rect x="161.20" y="434.90" width="4.20" height="4.20" fill="#4f1a5e" />
<rect x="67.90" y="400.70" width="3.60" height="3.60" fill="#c0102c" />
<rect x="80.70" y="408.40" width="3.60" height="3.60" fill="#c0102c" />
<rect x="93.60" y="405.40" width="3.60" height="3.60" fill="#c0102c" />
<rect x="106.30" y="415.10" width="3.60" height="3.60" fill="#c0102c" />
<rect x="118.90" y="424.40" width="3.60" height="3.60" fill="#c0102c" />
<rect x="131.70" y="444.40" width="3.60" height="3.60" fill="#c0102c" />
<line x1="69.70" y1="402.50" x2="69.70" y2="397.50" stroke="#c0102c" stroke-width="0.60" />
<line x1="68.50" y1="397.50" x2="70.90" y2="397.50" stroke="#c0102c" stroke-width="0.60" />
<line x1="69.70" y1="402.50" x2="69.70" y2="407.50" stroke="#c0102c" stroke-width="0.60" />
<line x1="68.50" y1="407.50" x2="70.90" y2="407.50" stroke="#c0102c" stroke-width="0.60" />
<polygon points="96.80,408.70 100.80,408.70 98.80,405.10" fill="#17684a"/>
<polygon points="110.40,419.90 114.40,419.90 112.40,416.30" fill="#17684a"/>
<polygon points="123.00,426.10 127.00,426.10 125.00,422.50" fill="#17684a"/>
<polygon points="135.80,436.30 139.80,436.30 137.80,432.70" fill="#17684a"/>
<polygon points="148.50,445.30 152.50,445.30 150.50,441.70" fill="#17684a"/>
<circle cx="74.00" cy="401.20" r="1.90" fill="#f3a11b"/>
<circle cx="86.40" cy="404.00" r="1.90" fill="#f3a11b"/>
<circle cx="98.80" cy="408.00" r="1.90" fill="#f3a11b"/>
<circle cx="111.80" cy="420.60" r="1.90" fill="#f3a11b"/>
<circle cx="125.00" cy="455.80" r="1.90" fill="#f3a11b"/>
<circle cx="137.70" cy="463.50" r="1.90" fill="#f3a11b"/>
<circle cx="150.50" cy="464.70" r="1.90" fill="#f3a11b"/>
<line x1="74.00" y1="401.20" x2="74.00" y2="396.20" stroke="#f3a11b" stroke-width="0.60" />
<line x1="72.60" y1="396.20" x2="75.40" y2="396.20" stroke="#f3a11b" stroke-width="0.60" />
<circle cx="35.80" cy="399.60" r="2.60" fill="#f3a11b"/>
<circle cx="35.80" cy="399.60" r="1.60" fill="#e07a10"/>
<text x="206.50" y="382.30" font-size="6.40" text-anchor="middle"><tspan font-style="italic">JAK2_TP53</tspan> mut</text>
<line x1="183.50" y1="384.00" x2="229.60" y2="384.00" stroke="#e06060" stroke-width="0.60" />
<line x1="172.50" y1="394.40" x2="189.80" y2="394.40" stroke="#f3a11b" stroke-width="1.00" />
<circle cx="181.20" cy="394.40" r="3.10" fill="#f3a11b"/>
<text x="193.00" y="396.70" font-size="6.40">SET2 Pa</text>
<text x="193.00" y="403.50" font-size="6.40">(IC50 = 0.74 µM)</text>
<line x1="172.50" y1="411.30" x2="189.80" y2="411.30" stroke="#17684a" stroke-width="1.00" />
<polygon points="178.20,413.70 184.20,413.70 181.20,408.30" fill="#17684a"/>
<text x="193.00" y="413.60" font-size="6.40">HEL Pa</text>
<text x="193.00" y="420.40" font-size="6.40">(IC50 = 2.35 µM)</text>
<line x1="172.50" y1="428.70" x2="189.80" y2="428.70" stroke="#c0102c" stroke-width="1.00" />
<rect x="178.40" y="425.90" width="5.60" height="5.60" fill="#c0102c" />
<text x="193.00" y="431.00" font-size="6.40">SET2 Ruxo-Re</text>
<text x="193.00" y="437.80" font-size="6.40">(IC50 = 1.29 µM)</text>
<line x1="172.50" y1="446.90" x2="189.80" y2="446.90" stroke="#4f1a5e" stroke-width="1.00" />
<rect x="177.80" y="443.50" width="6.80" height="6.80" fill="#4f1a5e" />
<text x="193.00" y="449.20" font-size="6.40">HEL Ruxo-Re</text>
<text x="193.00" y="456.00" font-size="6.40">(IC50 = 8.91 µM)</text>
<text x="256.80" y="361.30" font-size="10.60" font-weight="bold" style="fill:#111;stroke:#111;stroke-width:0.35">G</text>
<text x="359.60" y="357.90" font-size="6.40" text-anchor="end"><tspan font-style="italic">JAK2_TP53</tspan> wt</text>
<line x1="361.90" y1="352.30" x2="361.90" y2="359.40" stroke="#888" stroke-width="0.80" />
<rect x="366.20" y="353.70" width="5.00" height="4.80" fill="#3a9a35" />
<text x="375.40" y="358.20" font-size="6.40">MOLM13</text>
<text x="368.00" y="371.30" font-size="6.40" text-anchor="end"><tspan font-style="italic">JAK2</tspan> mut_<tspan font-style="italic">TP53</tspan> wt</text>
<line x1="371.90" y1="364.20" x2="371.90" y2="372.90" stroke="#ccc" stroke-width="0.80" />
<rect x="376.00" y="367.10" width="5.20" height="4.60" fill="#8e88c0" />
<text x="385.00" y="371.30" font-size="6.40">UKE-1</text>
<text x="449.50" y="364.80" font-size="6.40" text-anchor="end"><tspan font-style="italic">JAK2_TP53</tspan> wt</text>
<line x1="453.30" y1="356.00" x2="453.30" y2="371.00" stroke="#e0a0a0" stroke-width="0.80" />
<rect x="457.80" y="353.70" width="6.00" height="5.80" fill="#0e5040" />
<text x="467.50" y="358.80" font-size="6.40">HEL</text>
<rect x="457.80" y="365.30" width="6.00" height="5.80" fill="#ee8a1a" />
<text x="467.50" y="370.80" font-size="6.40">SET2</text>
<line x1="285.50" y1="371.80" x2="285.50" y2="468.00" stroke="#2a2a2a" stroke-width="1.30" />
<line x1="283.30" y1="467.50" x2="285.50" y2="467.50" stroke="#2a2a2a" stroke-width="0.90" />
<text x="280.60" y="470.28" font-size="6.40" text-anchor="end">0</text>
<line x1="283.30" y1="451.83" x2="285.50" y2="451.83" stroke="#2a2a2a" stroke-width="0.90" />
<text x="280.60" y="454.62" font-size="6.40" text-anchor="end">20</text>
<line x1="283.30" y1="436.17" x2="285.50" y2="436.17" stroke="#2a2a2a" stroke-width="0.90" />
<text x="280.60" y="438.95" font-size="6.40" text-anchor="end">40</text>
<line x1="283.30" y1="420.50" x2="285.50" y2="420.50" stroke="#2a2a2a" stroke-width="0.90" />
<text x="280.60" y="423.29" font-size="6.40" text-anchor="end">60</text>
<line x1="283.30" y1="404.84" x2="285.50" y2="404.84" stroke="#2a2a2a" stroke-width="0.90" />
<text x="280.60" y="407.62" font-size="6.40" text-anchor="end">80</text>
<line x1="283.30" y1="389.17" x2="285.50" y2="389.17" stroke="#2a2a2a" stroke-width="0.90" />
<text x="280.60" y="391.95" font-size="6.40" text-anchor="end">100</text>
<line x1="283.30" y1="373.50" x2="285.50" y2="373.50" stroke="#2a2a2a" stroke-width="0.90" />
<text x="280.60" y="376.29" font-size="6.40" text-anchor="end">120</text>
<line x1="284.18" y1="459.67" x2="285.50" y2="459.67" stroke="#2a2a2a" stroke-width="0.80" />
<line x1="284.18" y1="444.00" x2="285.50" y2="444.00" stroke="#2a2a2a" stroke-width="0.80" />
<line x1="284.18" y1="428.33" x2="285.50" y2="428.33" stroke="#2a2a2a" stroke-width="0.80" />
<line x1="284.18" y1="412.67" x2="285.50" y2="412.67" stroke="#2a2a2a" stroke-width="0.80" />
<line x1="284.18" y1="397.00" x2="285.50" y2="397.00" stroke="#2a2a2a" stroke-width="0.80" />
<line x1="284.18" y1="381.34" x2="285.50" y2="381.34" stroke="#2a2a2a" stroke-width="0.80" />
<line x1="285.00" y1="467.50" x2="510.00" y2="467.50" stroke="#2a2a2a" stroke-width="1.30" />
<text x="263.10" y="421.00" font-size="6.80" text-anchor="middle" transform="rotate(-90 263.10 421.00)">Priming (%)</text>
<rect x="287.00" y="466.72" width="2.70" height="0.78" fill="#3a9a35" />
<line x1="288.35" y1="466.72" x2="288.35" y2="465.93" stroke="#3a9a35" stroke-width="0.60" />
<line x1="287.45" y1="465.93" x2="289.25" y2="465.93" stroke="#3a9a35" stroke-width="0.60" />
<rect x="290.90" y="466.72" width="2.70" height="0.78" fill="#8e88c0" />
<line x1="292.25" y1="466.72" x2="292.25" y2="465.93" stroke="#8e88c0" stroke-width="0.60" />
<line x1="291.35" y1="465.93" x2="293.15" y2="465.93" stroke="#8e88c0" stroke-width="0.60" />
<rect x="298.60" y="467.11" width="2.70" height="0.39" fill="#e0861a" />
<line x1="299.95" y1="467.11" x2="299.95" y2="466.72" stroke="#e0861a" stroke-width="0.60" />
<line x1="299.05" y1="466.72" x2="300.85" y2="466.72" stroke="#e0861a" stroke-width="0.60" />
<line x1="293.50" y1="467.50" x2="293.50" y2="470.00" stroke="#2a2a2a" stroke-width="0.90" />
<text x="293.90" y="475.10" font-size="6.40" text-anchor="end" transform="rotate(-45 293.90 475.10)">DMSO</text>
<rect x="304.35" y="389.17" width="2.70" height="78.33" fill="#3a9a35" />
<line x1="305.70" y1="389.17" x2="305.70" y2="388.39" stroke="#3a9a35" stroke-width="0.60" />
<line x1="304.80" y1="388.39" x2="306.60" y2="388.39" stroke="#3a9a35" stroke-width="0.60" />
<rect x="308.25" y="389.17" width="2.70" height="78.33" fill="#8e88c0" />
<line x1="309.60" y1="389.17" x2="309.60" y2="386.82" stroke="#8e88c0" stroke-width="0.60" />
<line x1="308.70" y1="386.82" x2="310.50" y2="386.82" stroke="#8e88c0" stroke-width="0.60" />
<rect x="312.05" y="389.17" width="2.70" height="78.33" fill="#0e5040" />
<line x1="313.40" y1="389.17" x2="313.40" y2="388.39" stroke="#0e5040" stroke-width="0.60" />
<line x1="312.50" y1="388.39" x2="314.30" y2="388.39" stroke="#0e5040" stroke-width="0.60" />
<rect x="315.95" y="389.17" width="2.70" height="78.33" fill="#e0861a" />
<line x1="317.30" y1="389.17" x2="317.30" y2="388.39" stroke="#e0861a" stroke-width="0.60" />
<line x1="316.40" y1="388.39" x2="318.20" y2="388.39" stroke="#e0861a" stroke-width="0.60" />
<line x1="310.85" y1="467.50" x2="310.85" y2="470.00" stroke="#2a2a2a" stroke-width="0.90" />
<text x="311.25" y="475.10" font-size="6.40" text-anchor="end" transform="rotate(-45 311.25 475.10)">Ala 25 µM</text>
<rect x="321.70" y="419.72" width="2.70" height="47.78" fill="#3a9a35" />
<line x1="323.05" y1="419.72" x2="323.05" y2="417.37" stroke="#3a9a35" stroke-width="0.60" />
<line x1="322.15" y1="417.37" x2="323.95" y2="417.37" stroke="#3a9a35" stroke-width="0.60" />
<rect x="325.60" y="427.55" width="2.70" height="39.95" fill="#8e88c0" />
<line x1="326.95" y1="427.55" x2="326.95" y2="424.42" stroke="#8e88c0" stroke-width="0.60" />
<line x1="326.05" y1="424.42" x2="327.85" y2="424.42" stroke="#8e88c0" stroke-width="0.60" />
<rect x="329.40" y="441.65" width="2.70" height="25.85" fill="#0e5040" />
<rect x="333.30" y="394.65" width="2.70" height="72.85" fill="#e0861a" />
<line x1="334.65" y1="394.65" x2="334.65" y2="389.17" stroke="#e0861a" stroke-width="0.60" />
<line x1="333.75" y1="389.17" x2="335.55" y2="389.17" stroke="#e0861a" stroke-width="0.60" />
<line x1="328.20" y1="467.50" x2="328.20" y2="470.00" stroke="#2a2a2a" stroke-width="0.90" />
<text x="328.60" y="475.10" font-size="6.40" text-anchor="end" transform="rotate(-45 328.60 475.10)">BIM 0.1 µM</text>
<rect x="339.05" y="424.42" width="2.70" height="43.08" fill="#3a9a35" />
<line x1="340.40" y1="424.42" x2="340.40" y2="422.07" stroke="#3a9a35" stroke-width="0.60" />
<line x1="339.50" y1="422.07" x2="341.30" y2="422.07" stroke="#3a9a35" stroke-width="0.60" />
<rect x="342.95" y="446.35" width="2.70" height="21.15" fill="#8e88c0" />
<line x1="344.30" y1="446.35" x2="344.30" y2="444.00" stroke="#8e88c0" stroke-width="0.60" />
<line x1="343.40" y1="444.00" x2="345.20" y2="444.00" stroke="#8e88c0" stroke-width="0.60" />
<rect x="346.75" y="460.84" width="2.70" height="6.66" fill="#0e5040" />
<line x1="348.10" y1="460.84" x2="348.10" y2="459.67" stroke="#0e5040" stroke-width="0.60" />
<line x1="347.20" y1="459.67" x2="349.00" y2="459.67" stroke="#0e5040" stroke-width="0.60" />
<rect x="350.65" y="456.14" width="2.70" height="11.36" fill="#e0861a" />
<line x1="352.00" y1="456.14" x2="352.00" y2="454.18" stroke="#e0861a" stroke-width="0.60" />
<line x1="351.10" y1="454.18" x2="352.90" y2="454.18" stroke="#e0861a" stroke-width="0.60" />
<line x1="345.55" y1="467.50" x2="345.55" y2="470.00" stroke="#2a2a2a" stroke-width="0.90" />
<text x="345.95" y="475.10" font-size="6.40" text-anchor="end" transform="rotate(-45 345.95 475.10)">ABT-199 1000 nM</text>
<rect x="356.40" y="433.82" width="2.70" height="33.68" fill="#3a9a35" />
<line x1="357.75" y1="433.82" x2="357.75" y2="433.03" stroke="#3a9a35" stroke-width="0.60" />
<line x1="356.85" y1="433.03" x2="358.65" y2="433.03" stroke="#3a9a35" stroke-width="0.60" />
<rect x="360.30" y="461.70" width="2.70" height="5.80" fill="#8e88c0" />
<line x1="361.65" y1="461.70" x2="361.65" y2="460.45" stroke="#8e88c0" stroke-width="0.60" />
<line x1="360.75" y1="460.45" x2="362.55" y2="460.45" stroke="#8e88c0" stroke-width="0.60" />
<rect x="364.10" y="466.72" width="2.70" height="0.78" fill="#0e5040" />
<rect x="368.00" y="461.70" width="2.70" height="5.80" fill="#e0861a" />
<line x1="369.35" y1="461.70" x2="369.35" y2="461.23" stroke="#e0861a" stroke-width="0.60" />
<line x1="368.45" y1="461.23" x2="370.25" y2="461.23" stroke="#e0861a" stroke-width="0.60" />
<line x1="362.90" y1="467.50" x2="362.90" y2="470.00" stroke="#2a2a2a" stroke-width="0.90" />
<text x="363.30" y="475.10" font-size="6.40" text-anchor="end" transform="rotate(-45 363.30 475.10)">100 nM</text>
<rect x="373.75" y="444.39" width="2.70" height="23.11" fill="#3a9a35" />
<line x1="375.10" y1="444.39" x2="375.10" y2="443.22" stroke="#3a9a35" stroke-width="0.60" />
<line x1="374.20" y1="443.22" x2="376.00" y2="443.22" stroke="#3a9a35" stroke-width="0.60" />
<rect x="377.65" y="433.03" width="2.70" height="34.47" fill="#8e88c0" />
<line x1="379.00" y1="433.03" x2="379.00" y2="430.68" stroke="#8e88c0" stroke-width="0.60" />
<line x1="378.10" y1="430.68" x2="379.90" y2="430.68" stroke="#8e88c0" stroke-width="0.60" />
<rect x="381.45" y="414.24" width="2.70" height="53.26" fill="#0e5040" />
<line x1="382.80" y1="414.24" x2="382.80" y2="412.67" stroke="#0e5040" stroke-width="0.60" />
<line x1="381.90" y1="412.67" x2="383.70" y2="412.67" stroke="#0e5040" stroke-width="0.60" />
<rect x="385.35" y="432.25" width="2.70" height="35.25" fill="#e0861a" />
<line x1="386.70" y1="432.25" x2="386.70" y2="429.90" stroke="#e0861a" stroke-width="0.60" />
<line x1="385.80" y1="429.90" x2="387.60" y2="429.90" stroke="#e0861a" stroke-width="0.60" />
<line x1="380.25" y1="467.50" x2="380.25" y2="470.00" stroke="#2a2a2a" stroke-width="0.90" />
<text x="380.65" y="475.10" font-size="6.40" text-anchor="end" transform="rotate(-45 380.65 475.10)">ABT-263 1000 nM</text>
<rect x="391.10" y="462.02" width="2.70" height="5.48" fill="#3a9a35" />
<line x1="392.45" y1="462.02" x2="392.45" y2="461.23" stroke="#3a9a35" stroke-width="0.60" />
<line x1="391.55" y1="461.23" x2="393.35" y2="461.23" stroke="#3a9a35" stroke-width="0.60" />
<rect x="395.00" y="455.75" width="2.70" height="11.75" fill="#8e88c0" />
<line x1="396.35" y1="455.75" x2="396.35" y2="454.18" stroke="#8e88c0" stroke-width="0.60" />
<line x1="395.45" y1="454.18" x2="397.25" y2="454.18" stroke="#8e88c0" stroke-width="0.60" />
<rect x="398.80" y="459.67" width="2.70" height="7.83" fill="#0e5040" />
<line x1="400.15" y1="459.67" x2="400.15" y2="458.88" stroke="#0e5040" stroke-width="0.60" />
<line x1="399.25" y1="458.88" x2="401.05" y2="458.88" stroke="#0e5040" stroke-width="0.60" />
<rect x="402.70" y="456.53" width="2.70" height="10.97" fill="#e0861a" />
<line x1="404.05" y1="456.53" x2="404.05" y2="454.97" stroke="#e0861a" stroke-width="0.60" />
<line x1="403.15" y1="454.97" x2="404.95" y2="454.97" stroke="#e0861a" stroke-width="0.60" />
<line x1="397.60" y1="467.50" x2="397.60" y2="470.00" stroke="#2a2a2a" stroke-width="0.90" />
<text x="398.00" y="475.10" font-size="6.40" text-anchor="end" transform="rotate(-45 398.00 475.10)">100 nM</text>
<rect x="408.45" y="462.80" width="2.70" height="4.70" fill="#3a9a35" />
<line x1="409.80" y1="462.80" x2="409.80" y2="462.02" stroke="#3a9a35" stroke-width="0.60" />
<line x1="408.90" y1="462.02" x2="410.70" y2="462.02" stroke="#3a9a35" stroke-width="0.60" />
<rect x="412.35" y="423.64" width="2.70" height="43.86" fill="#8e88c0" />
<line x1="413.70" y1="423.64" x2="413.70" y2="421.29" stroke="#8e88c0" stroke-width="0.60" />
<line x1="412.80" y1="421.29" x2="414.60" y2="421.29" stroke="#8e88c0" stroke-width="0.60" />
<rect x="416.15" y="408.75" width="2.70" height="58.75" fill="#0e5040" />
<line x1="417.50" y1="408.75" x2="417.50" y2="407.19" stroke="#0e5040" stroke-width="0.60" />
<line x1="416.60" y1="407.19" x2="418.40" y2="407.19" stroke="#0e5040" stroke-width="0.60" />
<rect x="420.05" y="414.24" width="2.70" height="53.26" fill="#e0861a" />
<line x1="421.40" y1="414.24" x2="421.40" y2="411.10" stroke="#e0861a" stroke-width="0.60" />
<line x1="420.50" y1="411.10" x2="422.30" y2="411.10" stroke="#e0861a" stroke-width="0.60" />
<line x1="414.95" y1="467.50" x2="414.95" y2="470.00" stroke="#2a2a2a" stroke-width="0.90" />
<text x="415.35" y="475.10" font-size="6.40" text-anchor="end" transform="rotate(-45 415.35 475.10)">HRK-y 100 µM</text>
<rect x="425.80" y="464.37" width="2.70" height="3.13" fill="#3a9a35" />
<rect x="429.70" y="431.47" width="2.70" height="36.03" fill="#8e88c0" />
<line x1="431.05" y1="431.47" x2="431.05" y2="430.68" stroke="#8e88c0" stroke-width="0.60" />
<line x1="430.15" y1="430.68" x2="431.95" y2="430.68" stroke="#8e88c0" stroke-width="0.60" />
<rect x="433.50" y="431.47" width="2.70" height="36.03" fill="#0e5040" />
<line x1="434.85" y1="431.47" x2="434.85" y2="430.68" stroke="#0e5040" stroke-width="0.60" />
<line x1="433.95" y1="430.68" x2="435.75" y2="430.68" stroke="#0e5040" stroke-width="0.60" />
<rect x="437.40" y="421.29" width="2.70" height="46.21" fill="#e0861a" />
<line x1="438.75" y1="421.29" x2="438.75" y2="417.37" stroke="#e0861a" stroke-width="0.60" />
<line x1="437.85" y1="417.37" x2="439.65" y2="417.37" stroke="#e0861a" stroke-width="0.60" />
<line x1="432.30" y1="467.50" x2="432.30" y2="470.00" stroke="#2a2a2a" stroke-width="0.90" />
<text x="432.70" y="475.10" font-size="6.40" text-anchor="end" transform="rotate(-45 432.70 475.10)">10 µM</text>
<rect x="443.15" y="464.37" width="2.70" height="3.13" fill="#3a9a35" />
<rect x="447.05" y="453.40" width="2.70" height="14.10" fill="#8e88c0" />
<line x1="448.40" y1="453.40" x2="448.40" y2="449.48" stroke="#8e88c0" stroke-width="0.60" />
<line x1="447.50" y1="449.48" x2="449.30" y2="449.48" stroke="#8e88c0" stroke-width="0.60" />
<rect x="450.85" y="465.93" width="2.70" height="1.57" fill="#0e5040" />
<rect x="454.75" y="461.23" width="2.70" height="6.27" fill="#e0861a" />
<line x1="456.10" y1="461.23" x2="456.10" y2="458.10" stroke="#e0861a" stroke-width="0.60" />
<line x1="455.20" y1="458.10" x2="457.00" y2="458.10" stroke="#e0861a" stroke-width="0.60" />
<line x1="449.65" y1="467.50" x2="449.65" y2="470.00" stroke="#2a2a2a" stroke-width="0.90" />
<text x="450.05" y="475.10" font-size="6.40" text-anchor="end" transform="rotate(-45 450.05 475.10)">1 µM</text>
<rect x="460.50" y="459.28" width="2.70" height="8.22" fill="#3a9a35" />
<line x1="461.85" y1="459.28" x2="461.85" y2="458.49" stroke="#3a9a35" stroke-width="0.60" />
<line x1="460.95" y1="458.49" x2="462.75" y2="458.49" stroke="#3a9a35" stroke-width="0.60" />
<rect x="464.40" y="449.48" width="2.70" height="18.02" fill="#8e88c0" />
<line x1="465.75" y1="449.48" x2="465.75" y2="448.70" stroke="#8e88c0" stroke-width="0.60" />
<line x1="464.85" y1="448.70" x2="466.65" y2="448.70" stroke="#8e88c0" stroke-width="0.60" />
<rect x="468.20" y="450.27" width="2.70" height="17.23" fill="#0e5040" />
<line x1="469.55" y1="450.27" x2="469.55" y2="449.48" stroke="#0e5040" stroke-width="0.60" />
<line x1="468.65" y1="449.48" x2="470.45" y2="449.48" stroke="#0e5040" stroke-width="0.60" />
<rect x="472.10" y="443.22" width="2.70" height="24.28" fill="#e0861a" />
<line x1="473.45" y1="443.22" x2="473.45" y2="440.08" stroke="#e0861a" stroke-width="0.60" />
<line x1="472.55" y1="440.08" x2="474.35" y2="440.08" stroke="#e0861a" stroke-width="0.60" />
<line x1="467.00" y1="467.50" x2="467.00" y2="470.00" stroke="#2a2a2a" stroke-width="0.90" />
<text x="467.40" y="475.10" font-size="6.40" text-anchor="end" transform="rotate(-45 467.40 475.10)">DT2216 1000 nM</text>
<rect x="477.85" y="464.37" width="2.70" height="3.13" fill="#3a9a35" />
<rect x="481.75" y="462.41" width="2.70" height="5.09" fill="#8e88c0" />
<line x1="483.10" y1="462.41" x2="483.10" y2="461.23" stroke="#8e88c0" stroke-width="0.60" />
<line x1="482.20" y1="461.23" x2="484.00" y2="461.23" stroke="#8e88c0" stroke-width="0.60" />
<rect x="489.45" y="462.41" width="2.70" height="5.09" fill="#e0861a" />
<line x1="490.80" y1="462.41" x2="490.80" y2="459.67" stroke="#e0861a" stroke-width="0.60" />
<line x1="489.90" y1="459.67" x2="491.70" y2="459.67" stroke="#e0861a" stroke-width="0.60" />
<line x1="484.35" y1="467.50" x2="484.35" y2="470.00" stroke="#2a2a2a" stroke-width="0.90" />
<text x="484.75" y="475.10" font-size="6.40" text-anchor="end" transform="rotate(-45 484.75 475.10)">100 nM</text>
<rect x="495.20" y="464.37" width="2.70" height="3.13" fill="#3a9a35" />
<rect x="502.90" y="466.72" width="2.70" height="0.78" fill="#0e5040" />
<rect x="506.80" y="459.67" width="2.70" height="7.83" fill="#e0861a" />
<line x1="508.15" y1="459.67" x2="508.15" y2="458.88" stroke="#e0861a" stroke-width="0.60" />
<line x1="507.25" y1="458.88" x2="509.05" y2="458.88" stroke="#e0861a" stroke-width="0.60" />
<line x1="501.70" y1="467.50" x2="501.70" y2="470.00" stroke="#2a2a2a" stroke-width="0.90" />
<text x="502.10" y="475.10" font-size="6.40" text-anchor="end" transform="rotate(-45 502.10 475.10)">Noxa 1 µM</text>
<line x1="337.40" y1="382.00" x2="337.40" y2="467.50" stroke="#484848" stroke-width="1.30" stroke-dasharray="4.7 2.4" stroke-dashoffset="2.5"/>
<line x1="371.50" y1="382.00" x2="371.50" y2="467.50" stroke="#484848" stroke-width="1.30" stroke-dasharray="4.7 2.4" stroke-dashoffset="2.5"/>
<line x1="406.60" y1="382.00" x2="406.60" y2="467.50" stroke="#484848" stroke-width="1.30" stroke-dasharray="4.7 2.4" stroke-dashoffset="2.5"/>
<line x1="493.20" y1="382.00" x2="493.20" y2="467.50" stroke="#484848" stroke-width="1.30" stroke-dasharray="4.7 2.4" stroke-dashoffset="2.5"/>
<text x="354.30" y="396.20" font-size="6.60" text-anchor="middle" style="fill:#d09650">BCL-2</text>
<text x="389.50" y="396.20" font-size="6.60" text-anchor="middle" style="fill:#b83a64">BCL-2/</text>
<text x="389.50" y="403.80" font-size="6.60" text-anchor="middle" style="fill:#b83a64">BCL-xL</text>
<text x="435.90" y="396.20" font-size="6.60" text-anchor="middle" style="fill:#b83a64">BCL-xL</text>
<text x="504.20" y="396.20" font-size="6.60" text-anchor="middle" style="fill:#c4307a">MCL-1</text>
<text x="37.40" y="529.60" font-size="10.60" font-weight="bold" style="fill:#111;stroke:#111;stroke-width:0.35">H</text>
<line x1="77.90" y1="536.60" x2="77.90" y2="637.50" stroke="#2a2a2a" stroke-width="1.30" />
<line x1="75.70" y1="637.00" x2="77.90" y2="637.00" stroke="#2a2a2a" stroke-width="0.90" />
<text x="72.10" y="638.98" font-size="6.40" text-anchor="end">0</text>
<line x1="75.70" y1="620.64" x2="77.90" y2="620.64" stroke="#2a2a2a" stroke-width="0.90" />
<text x="72.10" y="622.62" font-size="6.40" text-anchor="end">20</text>
<line x1="75.70" y1="604.28" x2="77.90" y2="604.28" stroke="#2a2a2a" stroke-width="0.90" />
<text x="72.10" y="606.26" font-size="6.40" text-anchor="end">40</text>
<line x1="75.70" y1="587.92" x2="77.90" y2="587.92" stroke="#2a2a2a" stroke-width="0.90" />
<text x="72.10" y="589.90" font-size="6.40" text-anchor="end">60</text>
<line x1="75.70" y1="571.56" x2="77.90" y2="571.56" stroke="#2a2a2a" stroke-width="0.90" />
<text x="72.10" y="573.54" font-size="6.40" text-anchor="end">80</text>
<line x1="75.70" y1="555.20" x2="77.90" y2="555.20" stroke="#2a2a2a" stroke-width="0.90" />
<text x="72.10" y="557.18" font-size="6.40" text-anchor="end">100</text>
<line x1="75.70" y1="538.84" x2="77.90" y2="538.84" stroke="#2a2a2a" stroke-width="0.90" />
<text x="72.10" y="540.82" font-size="6.40" text-anchor="end">120</text>
<line x1="76.58" y1="628.82" x2="77.90" y2="628.82" stroke="#2a2a2a" stroke-width="0.80" />
<line x1="76.58" y1="612.46" x2="77.90" y2="612.46" stroke="#2a2a2a" stroke-width="0.80" />
<line x1="76.58" y1="596.10" x2="77.90" y2="596.10" stroke="#2a2a2a" stroke-width="0.80" />
<line x1="76.58" y1="579.74" x2="77.90" y2="579.74" stroke="#2a2a2a" stroke-width="0.80" />
<line x1="76.58" y1="563.38" x2="77.90" y2="563.38" stroke="#2a2a2a" stroke-width="0.80" />
<line x1="76.58" y1="547.02" x2="77.90" y2="547.02" stroke="#2a2a2a" stroke-width="0.80" />
<line x1="77.40" y1="637.00" x2="372.00" y2="637.00" stroke="#2a2a2a" stroke-width="1.30" />
<text x="55.30" y="588.00" font-size="6.80" text-anchor="middle" transform="rotate(-90 55.30 588.00)">Priming (%)</text>
<rect x="87.20" y="636.51" width="2.80" height="0.49" fill="#4a1a50" />
<rect x="91.20" y="635.77" width="2.80" height="1.23" fill="#e0881a" />
<line x1="92.60" y1="635.77" x2="92.60" y2="634.96" stroke="#e0881a" stroke-width="0.60" />
<line x1="91.70" y1="634.96" x2="93.50" y2="634.96" stroke="#e0881a" stroke-width="0.60" />
<rect x="95.20" y="635.77" width="2.80" height="1.23" fill="#b0001e" />
<line x1="96.60" y1="635.77" x2="96.60" y2="634.96" stroke="#b0001e" stroke-width="0.60" />
<line x1="95.70" y1="634.96" x2="97.50" y2="634.96" stroke="#b0001e" stroke-width="0.60" />
<line x1="88.30" y1="637.00" x2="88.30" y2="639.50" stroke="#2a2a2a" stroke-width="0.90" />
<text x="88.60" y="644.90" font-size="6.40" text-anchor="end" transform="rotate(-45 88.60 644.90)">DMSO</text>
<rect x="102.00" y="555.20" width="2.80" height="81.80" fill="#3a9a35" />
<line x1="103.40" y1="555.20" x2="103.40" y2="554.38" stroke="#3a9a35" stroke-width="0.60" />
<line x1="102.50" y1="554.38" x2="104.30" y2="554.38" stroke="#3a9a35" stroke-width="0.60" />
<rect x="106.00" y="555.20" width="2.80" height="81.80" fill="#0d5040" />
<line x1="107.40" y1="555.20" x2="107.40" y2="553.56" stroke="#0d5040" stroke-width="0.60" />
<line x1="106.50" y1="553.56" x2="108.30" y2="553.56" stroke="#0d5040" stroke-width="0.60" />
<rect x="109.90" y="555.20" width="2.80" height="81.80" fill="#4a1a50" />
<line x1="111.30" y1="555.20" x2="111.30" y2="553.56" stroke="#4a1a50" stroke-width="0.60" />
<line x1="110.40" y1="553.56" x2="112.20" y2="553.56" stroke="#4a1a50" stroke-width="0.60" />
<rect x="113.90" y="555.20" width="2.80" height="81.80" fill="#e0881a" />
<line x1="115.30" y1="555.20" x2="115.30" y2="554.38" stroke="#e0881a" stroke-width="0.60" />
<line x1="114.40" y1="554.38" x2="116.20" y2="554.38" stroke="#e0881a" stroke-width="0.60" />
<rect x="117.90" y="555.20" width="2.80" height="81.80" fill="#b0001e" />
<line x1="119.30" y1="555.20" x2="119.30" y2="554.38" stroke="#b0001e" stroke-width="0.60" />
<line x1="118.40" y1="554.38" x2="120.20" y2="554.38" stroke="#b0001e" stroke-width="0.60" />
<line x1="111.00" y1="637.00" x2="111.00" y2="639.50" stroke="#2a2a2a" stroke-width="0.90" />
<text x="111.30" y="644.90" font-size="6.40" text-anchor="end" transform="rotate(-45 111.30 644.90)">Ala 25 µM</text>
<rect x="124.70" y="587.10" width="2.80" height="49.90" fill="#3a9a35" />
<line x1="126.10" y1="587.10" x2="126.10" y2="585.47" stroke="#3a9a35" stroke-width="0.60" />
<line x1="125.20" y1="585.47" x2="127.00" y2="585.47" stroke="#3a9a35" stroke-width="0.60" />
<rect x="128.70" y="610.01" width="2.80" height="26.99" fill="#0d5040" />
<rect x="132.60" y="571.56" width="2.80" height="65.44" fill="#4a1a50" />
<line x1="134.00" y1="571.56" x2="134.00" y2="566.65" stroke="#4a1a50" stroke-width="0.60" />
<line x1="133.10" y1="566.65" x2="134.90" y2="566.65" stroke="#4a1a50" stroke-width="0.60" />
<rect x="136.60" y="560.93" width="2.80" height="76.07" fill="#e0881a" />
<line x1="138.00" y1="560.93" x2="138.00" y2="555.20" stroke="#e0881a" stroke-width="0.60" />
<line x1="137.10" y1="555.20" x2="138.90" y2="555.20" stroke="#e0881a" stroke-width="0.60" />
<rect x="140.60" y="586.28" width="2.80" height="50.72" fill="#b0001e" />
<line x1="142.00" y1="586.28" x2="142.00" y2="585.47" stroke="#b0001e" stroke-width="0.60" />
<line x1="141.10" y1="585.47" x2="142.90" y2="585.47" stroke="#b0001e" stroke-width="0.60" />
<line x1="133.70" y1="637.00" x2="133.70" y2="639.50" stroke="#2a2a2a" stroke-width="0.90" />
<text x="134.00" y="644.90" font-size="6.40" text-anchor="end" transform="rotate(-45 134.00 644.90)">BIM 0.1 µM</text>
<rect x="147.40" y="592.01" width="2.80" height="44.99" fill="#3a9a35" />
<line x1="148.80" y1="592.01" x2="148.80" y2="589.56" stroke="#3a9a35" stroke-width="0.60" />
<line x1="147.90" y1="589.56" x2="149.70" y2="589.56" stroke="#3a9a35" stroke-width="0.60" />
<rect x="151.40" y="630.05" width="2.80" height="6.95" fill="#0d5040" />
<line x1="152.80" y1="630.05" x2="152.80" y2="629.23" stroke="#0d5040" stroke-width="0.60" />
<line x1="151.90" y1="629.23" x2="153.70" y2="629.23" stroke="#0d5040" stroke-width="0.60" />
<rect x="155.30" y="631.27" width="2.80" height="5.73" fill="#4a1a50" />
<line x1="156.70" y1="631.27" x2="156.70" y2="628.00" stroke="#4a1a50" stroke-width="0.60" />
<line x1="155.80" y1="628.00" x2="157.60" y2="628.00" stroke="#4a1a50" stroke-width="0.60" />
<rect x="159.30" y="624.73" width="2.80" height="12.27" fill="#e0881a" />
<line x1="160.70" y1="624.73" x2="160.70" y2="622.28" stroke="#e0881a" stroke-width="0.60" />
<line x1="159.80" y1="622.28" x2="161.60" y2="622.28" stroke="#e0881a" stroke-width="0.60" />
<rect x="163.30" y="613.69" width="2.80" height="23.31" fill="#b0001e" />
<line x1="164.70" y1="613.69" x2="164.70" y2="610.01" stroke="#b0001e" stroke-width="0.60" />
<line x1="163.80" y1="610.01" x2="165.60" y2="610.01" stroke="#b0001e" stroke-width="0.60" />
<line x1="156.40" y1="637.00" x2="156.40" y2="639.50" stroke="#2a2a2a" stroke-width="0.90" />
<text x="156.70" y="644.90" font-size="6.40" text-anchor="end" transform="rotate(-45 156.70 644.90)">ABT-199 1000 nM</text>
<rect x="170.10" y="602.64" width="2.80" height="34.36" fill="#3a9a35" />
<line x1="171.50" y1="602.64" x2="171.50" y2="601.01" stroke="#3a9a35" stroke-width="0.60" />
<line x1="170.60" y1="601.01" x2="172.40" y2="601.01" stroke="#3a9a35" stroke-width="0.60" />
<rect x="174.10" y="636.18" width="2.80" height="0.82" fill="#0d5040" />
<rect x="178.00" y="625.55" width="2.80" height="11.45" fill="#4a1a50" />
<line x1="179.40" y1="625.55" x2="179.40" y2="623.91" stroke="#4a1a50" stroke-width="0.60" />
<line x1="178.50" y1="623.91" x2="180.30" y2="623.91" stroke="#4a1a50" stroke-width="0.60" />
<rect x="182.00" y="630.87" width="2.80" height="6.13" fill="#e0881a" />
<line x1="183.40" y1="630.87" x2="183.40" y2="630.46" stroke="#e0881a" stroke-width="0.60" />
<line x1="182.50" y1="630.46" x2="184.30" y2="630.46" stroke="#e0881a" stroke-width="0.60" />
<rect x="186.00" y="611.64" width="2.80" height="25.36" fill="#b0001e" />
<line x1="187.40" y1="611.64" x2="187.40" y2="607.55" stroke="#b0001e" stroke-width="0.60" />
<line x1="186.50" y1="607.55" x2="188.30" y2="607.55" stroke="#b0001e" stroke-width="0.60" />
<line x1="179.10" y1="637.00" x2="179.10" y2="639.50" stroke="#2a2a2a" stroke-width="0.90" />
<text x="179.40" y="644.90" font-size="6.40" text-anchor="end" transform="rotate(-45 179.40 644.90)">100 nM</text>
<rect x="192.80" y="612.46" width="2.80" height="24.54" fill="#3a9a35" />
<line x1="194.20" y1="612.46" x2="194.20" y2="611.64" stroke="#3a9a35" stroke-width="0.60" />
<line x1="193.30" y1="611.64" x2="195.10" y2="611.64" stroke="#3a9a35" stroke-width="0.60" />
<rect x="196.80" y="581.38" width="2.80" height="55.62" fill="#0d5040" />
<line x1="198.20" y1="581.38" x2="198.20" y2="579.74" stroke="#0d5040" stroke-width="0.60" />
<line x1="197.30" y1="579.74" x2="199.10" y2="579.74" stroke="#0d5040" stroke-width="0.60" />
<rect x="200.70" y="556.02" width="2.80" height="80.98" fill="#4a1a50" />
<line x1="202.10" y1="556.02" x2="202.10" y2="550.29" stroke="#4a1a50" stroke-width="0.60" />
<line x1="201.20" y1="550.29" x2="203.00" y2="550.29" stroke="#4a1a50" stroke-width="0.60" />
<rect x="204.70" y="600.60" width="2.80" height="36.40" fill="#e0881a" />
<line x1="206.10" y1="600.60" x2="206.10" y2="598.55" stroke="#e0881a" stroke-width="0.60" />
<line x1="205.20" y1="598.55" x2="207.00" y2="598.55" stroke="#e0881a" stroke-width="0.60" />
<rect x="208.70" y="573.20" width="2.80" height="63.80" fill="#b0001e" />
<line x1="210.10" y1="573.20" x2="210.10" y2="572.38" stroke="#b0001e" stroke-width="0.60" />
<line x1="209.20" y1="572.38" x2="211.00" y2="572.38" stroke="#b0001e" stroke-width="0.60" />
<line x1="201.80" y1="637.00" x2="201.80" y2="639.50" stroke="#2a2a2a" stroke-width="0.90" />
<text x="202.10" y="644.90" font-size="6.40" text-anchor="end" transform="rotate(-45 202.10 644.90)">ABT-263 1000 nM</text>
<rect x="215.50" y="630.46" width="2.80" height="6.54" fill="#3a9a35" />
<line x1="216.90" y1="630.46" x2="216.90" y2="629.64" stroke="#3a9a35" stroke-width="0.60" />
<line x1="216.00" y1="629.64" x2="217.80" y2="629.64" stroke="#3a9a35" stroke-width="0.60" />
<rect x="219.50" y="628.82" width="2.80" height="8.18" fill="#0d5040" />
<line x1="220.90" y1="628.82" x2="220.90" y2="628.00" stroke="#0d5040" stroke-width="0.60" />
<line x1="220.00" y1="628.00" x2="221.80" y2="628.00" stroke="#0d5040" stroke-width="0.60" />
<rect x="223.40" y="608.78" width="2.80" height="28.22" fill="#4a1a50" />
<line x1="224.80" y1="608.78" x2="224.80" y2="605.92" stroke="#4a1a50" stroke-width="0.60" />
<line x1="223.90" y1="605.92" x2="225.70" y2="605.92" stroke="#4a1a50" stroke-width="0.60" />
<rect x="227.40" y="626.77" width="2.80" height="10.23" fill="#e0881a" />
<line x1="228.80" y1="626.77" x2="228.80" y2="625.55" stroke="#e0881a" stroke-width="0.60" />
<line x1="227.90" y1="625.55" x2="229.70" y2="625.55" stroke="#e0881a" stroke-width="0.60" />
<rect x="231.40" y="587.92" width="2.80" height="49.08" fill="#b0001e" />
<line x1="232.80" y1="587.92" x2="232.80" y2="583.83" stroke="#b0001e" stroke-width="0.60" />
<line x1="231.90" y1="583.83" x2="233.70" y2="583.83" stroke="#b0001e" stroke-width="0.60" />
<line x1="224.50" y1="637.00" x2="224.50" y2="639.50" stroke="#2a2a2a" stroke-width="0.90" />
<text x="224.80" y="644.90" font-size="6.40" text-anchor="end" transform="rotate(-45 224.80 644.90)">100 nM</text>
<rect x="238.20" y="632.50" width="2.80" height="4.50" fill="#3a9a35" />
<line x1="239.60" y1="632.50" x2="239.60" y2="632.09" stroke="#3a9a35" stroke-width="0.60" />
<line x1="238.70" y1="632.09" x2="240.50" y2="632.09" stroke="#3a9a35" stroke-width="0.60" />
<rect x="242.20" y="575.65" width="2.80" height="61.35" fill="#0d5040" />
<line x1="243.60" y1="575.65" x2="243.60" y2="574.01" stroke="#0d5040" stroke-width="0.60" />
<line x1="242.70" y1="574.01" x2="244.50" y2="574.01" stroke="#0d5040" stroke-width="0.60" />
<rect x="246.10" y="561.74" width="2.80" height="75.26" fill="#4a1a50" />
<line x1="247.50" y1="561.74" x2="247.50" y2="560.93" stroke="#4a1a50" stroke-width="0.60" />
<line x1="246.60" y1="560.93" x2="248.40" y2="560.93" stroke="#4a1a50" stroke-width="0.60" />
<rect x="250.10" y="582.19" width="2.80" height="54.81" fill="#e0881a" />
<line x1="251.50" y1="582.19" x2="251.50" y2="578.92" stroke="#e0881a" stroke-width="0.60" />
<line x1="250.60" y1="578.92" x2="252.40" y2="578.92" stroke="#e0881a" stroke-width="0.60" />
<rect x="254.10" y="571.97" width="2.80" height="65.03" fill="#b0001e" />
<line x1="255.50" y1="571.97" x2="255.50" y2="569.92" stroke="#b0001e" stroke-width="0.60" />
<line x1="254.60" y1="569.92" x2="256.40" y2="569.92" stroke="#b0001e" stroke-width="0.60" />
<line x1="247.20" y1="637.00" x2="247.20" y2="639.50" stroke="#2a2a2a" stroke-width="0.90" />
<text x="247.50" y="644.90" font-size="6.40" text-anchor="end" transform="rotate(-45 247.50 644.90)">HRK-y 100 µM</text>
<rect x="260.90" y="634.55" width="2.80" height="2.45" fill="#3a9a35" />
<line x1="262.30" y1="634.55" x2="262.30" y2="633.73" stroke="#3a9a35" stroke-width="0.60" />
<line x1="261.40" y1="633.73" x2="263.20" y2="633.73" stroke="#3a9a35" stroke-width="0.60" />
<rect x="264.90" y="599.37" width="2.80" height="37.63" fill="#0d5040" />
<line x1="266.30" y1="599.37" x2="266.30" y2="598.55" stroke="#0d5040" stroke-width="0.60" />
<line x1="265.40" y1="598.55" x2="267.20" y2="598.55" stroke="#0d5040" stroke-width="0.60" />
<rect x="268.80" y="588.74" width="2.80" height="48.26" fill="#4a1a50" />
<line x1="270.20" y1="588.74" x2="270.20" y2="584.65" stroke="#4a1a50" stroke-width="0.60" />
<line x1="269.30" y1="584.65" x2="271.10" y2="584.65" stroke="#4a1a50" stroke-width="0.60" />
<rect x="272.80" y="588.33" width="2.80" height="48.67" fill="#e0881a" />
<line x1="274.20" y1="588.33" x2="274.20" y2="586.28" stroke="#e0881a" stroke-width="0.60" />
<line x1="273.30" y1="586.28" x2="275.10" y2="586.28" stroke="#e0881a" stroke-width="0.60" />
<rect x="276.80" y="579.33" width="2.80" height="57.67" fill="#b0001e" />
<line x1="278.20" y1="579.33" x2="278.20" y2="578.10" stroke="#b0001e" stroke-width="0.60" />
<line x1="277.30" y1="578.10" x2="279.10" y2="578.10" stroke="#b0001e" stroke-width="0.60" />
<line x1="269.90" y1="637.00" x2="269.90" y2="639.50" stroke="#2a2a2a" stroke-width="0.90" />
<text x="270.20" y="644.90" font-size="6.40" text-anchor="end" transform="rotate(-45 270.20 644.90)">10 µM</text>
<rect x="283.60" y="634.55" width="2.80" height="2.45" fill="#3a9a35" />
<line x1="285.00" y1="634.55" x2="285.00" y2="633.73" stroke="#3a9a35" stroke-width="0.60" />
<line x1="284.10" y1="633.73" x2="285.90" y2="633.73" stroke="#3a9a35" stroke-width="0.60" />
<rect x="287.60" y="634.55" width="2.80" height="2.45" fill="#0d5040" />
<line x1="289.00" y1="634.55" x2="289.00" y2="633.73" stroke="#0d5040" stroke-width="0.60" />
<line x1="288.10" y1="633.73" x2="289.90" y2="633.73" stroke="#0d5040" stroke-width="0.60" />
<rect x="291.50" y="622.28" width="2.80" height="14.72" fill="#4a1a50" />
<line x1="292.90" y1="622.28" x2="292.90" y2="619.82" stroke="#4a1a50" stroke-width="0.60" />
<line x1="292.00" y1="619.82" x2="293.80" y2="619.82" stroke="#4a1a50" stroke-width="0.60" />
<rect x="295.50" y="629.64" width="2.80" height="7.36" fill="#e0881a" />
<line x1="296.90" y1="629.64" x2="296.90" y2="628.00" stroke="#e0881a" stroke-width="0.60" />
<line x1="296.00" y1="628.00" x2="297.80" y2="628.00" stroke="#e0881a" stroke-width="0.60" />
<rect x="299.50" y="597.74" width="2.80" height="39.26" fill="#b0001e" />
<line x1="300.90" y1="597.74" x2="300.90" y2="594.46" stroke="#b0001e" stroke-width="0.60" />
<line x1="300.00" y1="594.46" x2="301.80" y2="594.46" stroke="#b0001e" stroke-width="0.60" />
<line x1="292.60" y1="637.00" x2="292.60" y2="639.50" stroke="#2a2a2a" stroke-width="0.90" />
<text x="292.90" y="644.90" font-size="6.40" text-anchor="end" transform="rotate(-45 292.90 644.90)">1 µM</text>
<rect x="306.30" y="628.00" width="2.80" height="9.00" fill="#3a9a35" />
<line x1="307.70" y1="628.00" x2="307.70" y2="627.18" stroke="#3a9a35" stroke-width="0.60" />
<line x1="306.80" y1="627.18" x2="308.60" y2="627.18" stroke="#3a9a35" stroke-width="0.60" />
<rect x="310.30" y="618.19" width="2.80" height="18.81" fill="#0d5040" />
<line x1="311.70" y1="618.19" x2="311.70" y2="617.37" stroke="#0d5040" stroke-width="0.60" />
<line x1="310.80" y1="617.37" x2="312.60" y2="617.37" stroke="#0d5040" stroke-width="0.60" />
<rect x="314.20" y="584.65" width="2.80" height="52.35" fill="#4a1a50" />
<line x1="315.60" y1="584.65" x2="315.60" y2="582.19" stroke="#4a1a50" stroke-width="0.60" />
<line x1="314.70" y1="582.19" x2="316.50" y2="582.19" stroke="#4a1a50" stroke-width="0.60" />
<rect x="318.20" y="611.64" width="2.80" height="25.36" fill="#e0881a" />
<line x1="319.60" y1="611.64" x2="319.60" y2="610.01" stroke="#e0881a" stroke-width="0.60" />
<line x1="318.70" y1="610.01" x2="320.50" y2="610.01" stroke="#e0881a" stroke-width="0.60" />
<rect x="322.20" y="581.38" width="2.80" height="55.62" fill="#b0001e" />
<line x1="323.60" y1="581.38" x2="323.60" y2="580.56" stroke="#b0001e" stroke-width="0.60" />
<line x1="322.70" y1="580.56" x2="324.50" y2="580.56" stroke="#b0001e" stroke-width="0.60" />
<line x1="315.30" y1="637.00" x2="315.30" y2="639.50" stroke="#2a2a2a" stroke-width="0.90" />
<text x="315.60" y="644.90" font-size="6.40" text-anchor="end" transform="rotate(-45 315.60 644.90)">DT2216 1000 nM</text>
<rect x="329.00" y="634.55" width="2.80" height="2.45" fill="#3a9a35" />
<line x1="330.40" y1="634.55" x2="330.40" y2="633.73" stroke="#3a9a35" stroke-width="0.60" />
<line x1="329.50" y1="633.73" x2="331.30" y2="633.73" stroke="#3a9a35" stroke-width="0.60" />
<rect x="333.00" y="636.59" width="2.80" height="0.41" fill="#0d5040" />
<rect x="336.90" y="625.55" width="2.80" height="11.45" fill="#4a1a50" />
<line x1="338.30" y1="625.55" x2="338.30" y2="623.09" stroke="#4a1a50" stroke-width="0.60" />
<line x1="337.40" y1="623.09" x2="339.20" y2="623.09" stroke="#4a1a50" stroke-width="0.60" />
<rect x="340.90" y="630.46" width="2.80" height="6.54" fill="#e0881a" />
<line x1="342.30" y1="630.46" x2="342.30" y2="629.64" stroke="#e0881a" stroke-width="0.60" />
<line x1="341.40" y1="629.64" x2="343.20" y2="629.64" stroke="#e0881a" stroke-width="0.60" />
<rect x="344.90" y="601.01" width="2.80" height="35.99" fill="#b0001e" />
<line x1="346.30" y1="601.01" x2="346.30" y2="597.74" stroke="#b0001e" stroke-width="0.60" />
<line x1="345.40" y1="597.74" x2="347.20" y2="597.74" stroke="#b0001e" stroke-width="0.60" />
<line x1="338.00" y1="637.00" x2="338.00" y2="639.50" stroke="#2a2a2a" stroke-width="0.90" />
<text x="338.30" y="644.90" font-size="6.40" text-anchor="end" transform="rotate(-45 338.30 644.90)">100 nM</text>
<rect x="351.70" y="634.55" width="2.80" height="2.45" fill="#3a9a35" />
<line x1="353.10" y1="634.55" x2="353.10" y2="633.73" stroke="#3a9a35" stroke-width="0.60" />
<line x1="352.20" y1="633.73" x2="354.00" y2="633.73" stroke="#3a9a35" stroke-width="0.60" />
<rect x="355.70" y="636.18" width="2.80" height="0.82" fill="#0d5040" />
<rect x="359.60" y="626.77" width="2.80" height="10.23" fill="#4a1a50" />
<line x1="361.00" y1="626.77" x2="361.00" y2="623.91" stroke="#4a1a50" stroke-width="0.60" />
<line x1="360.10" y1="623.91" x2="361.90" y2="623.91" stroke="#4a1a50" stroke-width="0.60" />
<rect x="363.60" y="628.82" width="2.80" height="8.18" fill="#e0881a" />
<line x1="365.00" y1="628.82" x2="365.00" y2="628.00" stroke="#e0881a" stroke-width="0.60" />
<line x1="364.10" y1="628.00" x2="365.90" y2="628.00" stroke="#e0881a" stroke-width="0.60" />
<rect x="367.60" y="605.10" width="2.80" height="31.90" fill="#b0001e" />
<line x1="369.00" y1="605.10" x2="369.00" y2="603.46" stroke="#b0001e" stroke-width="0.60" />
<line x1="368.10" y1="603.46" x2="369.90" y2="603.46" stroke="#b0001e" stroke-width="0.60" />
<line x1="360.70" y1="637.00" x2="360.70" y2="639.50" stroke="#2a2a2a" stroke-width="0.90" />
<text x="361.00" y="644.90" font-size="6.40" text-anchor="end" transform="rotate(-45 361.00 644.90)">Noxa 1 µM</text>
<line x1="145.30" y1="537.50" x2="145.30" y2="637.00" stroke="#484848" stroke-width="1.30" stroke-dasharray="4.7 2.4" stroke-dashoffset="2.5"/>
<line x1="190.30" y1="537.50" x2="190.30" y2="637.00" stroke="#484848" stroke-width="1.30" stroke-dasharray="4.7 2.4" stroke-dashoffset="2.5"/>
<line x1="235.80" y1="537.50" x2="235.80" y2="637.00" stroke="#484848" stroke-width="1.30" stroke-dasharray="4.7 2.4" stroke-dashoffset="2.5"/>
<line x1="349.20" y1="537.50" x2="349.20" y2="637.00" stroke="#484848" stroke-width="1.30" stroke-dasharray="4.7 2.4" stroke-dashoffset="2.5"/>
<text x="168.00" y="545.80" font-size="6.60" text-anchor="middle" style="fill:#d09650">BCL-2</text>
<text x="212.80" y="545.80" font-size="6.60" text-anchor="middle" style="fill:#b83a64">BCL-2/BCL-xL</text>
<text x="292.70" y="545.80" font-size="6.60" text-anchor="middle" style="fill:#b83a64">BCL-xL</text>
<text x="360.80" y="545.80" font-size="6.60" text-anchor="middle" style="fill:#c4307a">MCL-1</text>
<text x="425.30" y="568.00" font-size="6.40" text-anchor="end"><tspan font-style="italic">JAK2_TP53</tspan> wt</text>
<line x1="429.50" y1="560.40" x2="429.50" y2="570.80" stroke="#999" stroke-width="0.80" />
<text x="426.20" y="596.10" font-size="6.40" text-anchor="end"><tspan font-style="italic">JAK2_TP53</tspan> mut</text>
<line x1="429.50" y1="575.40" x2="429.50" y2="612.30" stroke="#e2b0b0" stroke-width="0.80" />
<rect x="434.00" y="562.60" width="5.60" height="5.60" fill="#3a9a35" />
<text x="442.40" y="567.70" font-size="6.20">MOLM13</text>
<rect x="434.00" y="577.00" width="5.60" height="5.60" fill="#0d5040" />
<text x="442.40" y="582.10" font-size="6.20">HEL Pa</text>
<rect x="434.00" y="586.70" width="5.60" height="5.60" fill="#4a1a50" />
<text x="442.40" y="591.80" font-size="6.20">HEL Ruxo-Re</text>
<rect x="434.00" y="596.60" width="5.60" height="5.60" fill="#ee8a1a" />
<text x="442.40" y="601.70" font-size="6.20">SET2 Pa</text>
<rect x="434.00" y="606.40" width="5.60" height="5.60" fill="#b0001e" />
<text x="442.40" y="611.50" font-size="6.20">SET2 Ruxo-Re</text>
<rect x="0.5" y="0.5" width="519" height="689" fill="none" stroke="#555" stroke-width="1"/>
</svg>
</body></html>
